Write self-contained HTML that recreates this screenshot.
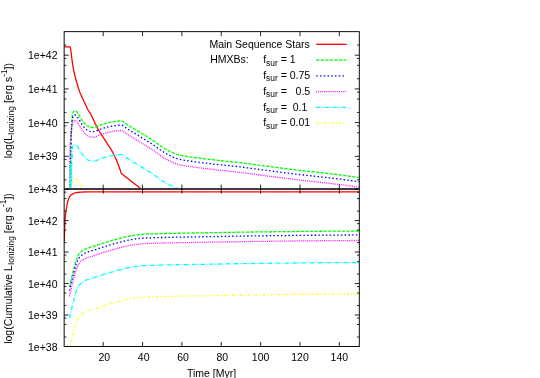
<!DOCTYPE html>
<html><head><meta charset="utf-8"><title>plot</title>
<style>html,body{margin:0;padding:0;background:#fff;}body{width:540px;height:378px;overflow:hidden;}svg{display:block;will-change:transform;}text{font-family:"Liberation Sans", sans-serif;fill:#000;}</style>
</head><body>
<svg width="540" height="378" viewBox="0 0 540 378">
<rect width="540" height="378" fill="#fff"/>
<defs>
<clipPath id="ct"><rect x="64.15" y="31.65" width="295.15" height="157.85"/></clipPath>
<clipPath id="cb"><rect x="64.15" y="189.10" width="295.15" height="157.40"/></clipPath>
</defs>
<g fill="none" stroke-width="1.30" stroke-linejoin="round">
<g clip-path="url(#ct)">
<polyline stroke="#ff0000" points="64.20,46.90 70.00,46.90 70.00,46.90 70.22,47.53 70.42,48.17 70.56,48.81 70.68,49.46 70.79,50.12 70.89,50.77 70.98,51.43 71.07,52.10 71.15,52.76 71.22,53.42 71.30,54.09 71.37,54.76 71.44,55.42 71.52,56.09 71.60,56.75 71.69,57.41 71.78,58.07 71.87,58.73 71.96,59.39 72.05,60.05 72.14,60.71 72.23,61.37 72.32,62.04 72.42,62.70 72.51,63.36 72.61,64.02 72.71,64.67 72.81,65.33 72.91,65.99 73.02,66.65 73.14,67.30 73.25,67.96 73.38,68.61 73.50,69.27 73.63,69.92 73.77,70.58 73.90,71.23 74.05,71.88 74.19,72.53 74.34,73.18 74.48,73.83 74.64,74.48 74.79,75.13 74.94,75.78 75.10,76.43 75.26,77.07 75.43,77.72 75.60,78.36 75.78,79.01 75.95,79.65 76.13,80.29 76.31,80.93 76.50,81.57 76.68,82.21 76.87,82.86 77.05,83.50 77.24,84.14 77.43,84.78 77.61,85.42 77.80,86.06 77.98,86.70 78.17,87.34 78.37,87.98 78.56,88.62 78.76,89.25 78.97,89.89 79.19,90.52 79.41,91.14 79.64,91.76 79.88,92.38 80.13,93.00 80.40,93.61 80.67,94.22 80.95,94.83 81.22,95.44 81.50,96.04 81.78,96.65 82.05,97.26 82.33,97.86 82.61,98.47 82.89,99.07 83.18,99.68 83.46,100.28 83.75,100.88 84.03,101.48 84.32,102.09 84.60,102.69 84.89,103.29 85.17,103.90 85.45,104.50 85.73,105.11 86.00,105.72 86.28,106.32 86.57,106.93 86.85,107.53 87.14,108.13 87.44,108.72 87.75,109.31 88.07,109.89 88.41,110.47 88.76,111.03 89.12,111.60 89.48,112.16 89.83,112.73 90.17,113.30 90.50,113.88 90.82,114.46 91.13,115.05 91.44,115.64 91.74,116.24 92.04,116.83 92.33,117.43 92.63,118.03 92.91,118.63 93.20,119.24 93.49,119.84 93.77,120.44 94.05,121.05 94.34,121.66 94.62,122.26 94.90,122.87 95.19,123.47 95.48,124.07 95.77,124.67 96.06,125.27 96.36,125.87 96.66,126.46 96.96,127.05 97.27,127.64 97.58,128.23 97.91,128.81 98.23,129.39 98.56,129.96 98.90,130.54 99.24,131.11 99.59,131.68 99.94,132.24 100.29,132.81 100.64,133.37 101.00,133.94 101.36,134.50 101.73,135.06 102.09,135.62 102.45,136.18 102.82,136.74 103.18,137.29 103.55,137.85 103.92,138.41 104.28,138.97 104.64,139.53 105.01,140.09 105.36,140.65 105.72,141.22 106.08,141.78 106.44,142.34 106.80,142.91 107.16,143.46 107.53,144.02 107.90,144.58 108.27,145.14 108.64,145.70 109.01,146.26 109.37,146.81 109.74,147.37 110.10,147.94 110.46,148.50 110.81,149.06 111.16,149.63 111.50,150.20 111.84,150.77 112.17,151.35 112.49,151.93 112.81,152.51 113.11,153.10 113.42,153.69 113.72,154.28 114.01,154.88 114.31,155.48 114.59,156.08 114.88,156.68 115.16,157.29 115.44,157.90 115.71,158.51 115.98,159.12 116.25,159.74 116.51,160.35 116.77,160.97 117.03,161.58 117.28,162.20 117.53,162.82 117.77,163.43 118.02,164.05 118.26,164.67 118.50,165.29 118.73,165.92 118.96,166.54 119.19,167.17 119.42,167.80 119.64,168.42 119.86,169.05 120.07,169.69 120.29,170.32 120.50,170.95 120.70,171.59 120.90,172.22 121.10,172.86 121.30,173.50 121.30,173.50 140.30,188.30 145.00,192.00"/>
<polyline stroke="#00ff00" stroke-dasharray="3.20 1.36" points="70.50,200.00 70.51,199.33 70.51,198.67 70.52,198.00 70.53,197.34 70.53,196.67 70.54,196.00 70.55,195.34 70.55,194.67 70.56,194.00 70.56,193.34 70.57,192.67 70.58,192.01 70.58,191.34 70.59,190.67 70.59,190.01 70.60,189.34 70.60,188.68 70.61,188.01 70.61,187.34 70.62,186.68 70.62,186.01 70.62,185.35 70.63,184.68 70.63,184.01 70.64,183.35 70.64,182.68 70.64,182.01 70.65,181.35 70.65,180.68 70.65,180.02 70.66,179.35 70.66,178.68 70.66,178.02 70.66,177.35 70.67,176.69 70.67,176.02 70.67,175.35 70.68,174.69 70.68,174.02 70.68,173.35 70.68,172.69 70.69,172.02 70.69,171.36 70.69,170.69 70.70,170.02 70.70,169.36 70.70,168.69 70.71,168.03 70.71,167.36 70.71,166.69 70.72,166.03 70.72,165.36 70.72,164.69 70.73,164.03 70.73,163.36 70.74,162.70 70.74,162.03 70.74,161.36 70.75,160.70 70.75,160.03 70.76,159.37 70.76,158.70 70.77,158.03 70.77,157.37 70.78,156.70 70.79,156.04 70.79,155.37 70.80,154.70 70.81,154.04 70.81,153.37 70.82,152.71 70.83,152.04 70.84,151.37 70.85,150.71 70.87,150.04 70.88,149.37 70.89,148.71 70.91,148.04 70.92,147.38 70.94,146.71 70.96,146.04 70.97,145.38 70.99,144.71 71.01,144.05 71.03,143.38 71.05,142.71 71.07,142.05 71.09,141.38 71.11,140.72 71.13,140.05 71.15,139.39 71.17,138.72 71.19,138.05 71.22,137.39 71.24,136.72 71.26,136.06 71.29,135.39 71.31,134.73 71.33,134.06 71.36,133.39 71.38,132.73 71.41,132.06 71.44,131.40 71.47,130.73 71.50,130.06 71.53,129.40 71.56,128.73 71.59,128.07 71.63,127.40 71.67,126.73 71.70,126.07 71.74,125.40 71.78,124.74 71.83,124.07 71.87,123.41 71.92,122.75 71.97,122.08 72.01,121.42 72.03,120.76 72.05,120.09 72.07,119.43 72.09,118.76 72.12,118.09 72.15,117.43 72.19,116.77 72.23,116.11 72.27,115.45 72.34,114.80 72.48,114.16 72.65,113.47 72.87,112.80 73.14,112.18 73.45,111.66 73.91,111.20 74.53,110.81 75.14,110.71 75.77,110.99 76.31,111.39 76.74,111.87 77.13,112.44 77.51,113.01 77.88,113.56 78.23,114.12 78.58,114.69 78.92,115.26 79.26,115.84 79.60,116.41 79.95,116.98 80.30,117.55 80.64,118.12 80.99,118.69 81.34,119.26 81.70,119.82 82.07,120.37 82.45,120.91 82.85,121.45 83.26,121.98 83.69,122.49 84.13,123.00 84.58,123.48 85.05,123.96 85.53,124.44 86.02,124.91 86.54,125.36 87.07,125.76 87.61,126.10 88.19,126.39 88.79,126.68 89.42,126.95 90.06,127.19 90.72,127.37 91.38,127.48 92.03,127.50 92.70,127.50 93.38,127.50 94.03,127.50 94.67,127.44 95.30,127.28 95.92,127.05 96.53,126.76 97.14,126.44 97.75,126.11 98.36,125.79 98.98,125.50 99.60,125.27 100.23,125.05 100.86,124.83 101.49,124.62 102.13,124.41 102.76,124.20 103.40,124.00 104.04,123.80 104.68,123.61 105.32,123.42 105.96,123.24 106.60,123.07 107.25,122.90 107.89,122.75 108.54,122.60 109.19,122.46 109.84,122.33 110.49,122.20 111.15,122.08 111.80,121.96 112.46,121.85 113.12,121.74 113.78,121.63 114.44,121.53 115.10,121.44 115.76,121.35 116.42,121.27 117.08,121.19 117.75,121.11 118.43,121.03 119.10,120.95 119.77,120.88 120.44,120.83 121.08,120.80 121.70,120.85 122.31,121.15 122.89,121.53 123.46,121.88 124.01,122.24 124.56,122.62 125.10,123.01 125.64,123.41 126.19,123.79 126.74,124.16 127.30,124.52 127.86,124.88 128.42,125.24 128.98,125.60 129.55,125.95 130.11,126.31 130.68,126.66 131.25,127.01 131.81,127.35 132.38,127.70 132.95,128.05 133.52,128.40 134.09,128.74 134.66,129.09 135.23,129.44 135.80,129.79 136.36,130.14 136.93,130.48 137.50,130.84 138.06,131.19 138.63,131.54 139.20,131.89 139.76,132.24 140.33,132.58 140.90,132.93 141.47,133.28 142.04,133.62 142.61,133.97 143.18,134.32 143.75,134.66 144.32,135.01 144.89,135.36 145.46,135.70 146.03,136.05 146.59,136.40 147.16,136.75 147.73,137.10 148.29,137.45 148.86,137.80 149.42,138.16 149.99,138.51 150.55,138.87 151.11,139.23 151.67,139.59 152.22,139.96 152.78,140.32 153.33,140.69 153.89,141.06 154.43,141.44 154.98,141.82 155.52,142.21 156.06,142.61 156.59,143.00 157.13,143.40 157.67,143.80 158.20,144.20 158.74,144.60 159.28,144.99 159.82,145.38 160.36,145.77 160.90,146.15 161.45,146.52 162.01,146.89 162.57,147.24 163.13,147.59 163.70,147.94 164.27,148.28 164.85,148.62 165.43,148.95 166.01,149.28 166.59,149.60 167.18,149.92 167.76,150.24 168.35,150.55 168.94,150.86 169.54,151.17 170.13,151.47 170.72,151.77 171.32,152.07 171.92,152.37 172.52,152.66 173.13,152.94 173.74,153.21 174.35,153.46 174.97,153.69 175.60,153.90 176.23,154.11 176.87,154.31 177.51,154.50 178.15,154.68 178.80,154.85 179.45,155.02 180.10,155.17 180.75,155.32 181.40,155.46 182.05,155.59 182.70,155.71 183.35,155.84 184.00,155.95 184.66,156.07 185.32,156.18 185.97,156.28 186.63,156.39 187.29,156.49 187.95,156.58 188.61,156.68 189.27,156.77 189.93,156.87 190.59,156.96 191.25,157.05 191.92,157.13 192.58,157.22 193.24,157.31 193.90,157.40 194.56,157.48 195.22,157.57 195.88,157.66 196.54,157.75 197.20,157.83 197.86,157.92 198.52,158.01 199.19,158.09 199.85,158.18 200.51,158.26 201.17,158.35 201.83,158.43 202.49,158.51 203.15,158.59 203.81,158.67 204.47,158.75 205.13,158.83 205.80,158.91 206.46,158.99 207.12,159.07 207.78,159.15 208.44,159.23 209.10,159.30 209.77,159.38 210.43,159.46 211.09,159.53 211.75,159.61 212.41,159.69 213.08,159.76 213.74,159.84 214.40,159.91 215.06,159.99 215.72,160.06 216.39,160.14 217.05,160.21 217.71,160.29 218.37,160.36 219.03,160.44 219.69,160.51 220.36,160.58 221.02,160.66 221.68,160.73 222.34,160.80 223.01,160.87 223.67,160.94 224.33,161.01 224.99,161.08 225.66,161.15 226.32,161.22 226.98,161.28 227.64,161.35 228.31,161.42 228.97,161.49 229.63,161.56 230.30,161.63 230.96,161.69 231.62,161.76 232.28,161.83 232.95,161.90 233.61,161.97 234.27,162.04 234.93,162.11 235.60,162.18 236.26,162.25 236.92,162.32 237.58,162.40 238.24,162.47 238.91,162.55 239.57,162.62 240.23,162.70 240.89,162.78 241.55,162.85 242.21,162.93 242.87,163.02 243.54,163.10 244.20,163.18 244.86,163.27 245.52,163.35 246.18,163.44 246.84,163.52 247.50,163.61 248.16,163.70 248.82,163.79 249.48,163.88 250.14,163.97 250.80,164.06 251.46,164.15 252.12,164.24 252.78,164.33 253.44,164.42 254.10,164.51 254.76,164.60 255.42,164.69 256.08,164.78 256.74,164.87 257.40,164.96 258.06,165.04 258.72,165.13 259.38,165.22 260.04,165.31 260.70,165.39 261.36,165.48 262.02,165.56 262.68,165.65 263.35,165.74 264.01,165.82 264.67,165.91 265.33,166.00 265.99,166.08 266.65,166.17 267.31,166.26 267.97,166.34 268.63,166.43 269.29,166.52 269.95,166.61 270.61,166.69 271.27,166.78 271.93,166.87 272.59,166.95 273.25,167.04 273.91,167.12 274.57,167.21 275.23,167.30 275.90,167.38 276.56,167.47 277.22,167.56 277.88,167.64 278.54,167.73 279.20,167.81 279.86,167.90 280.52,167.98 281.18,168.07 281.84,168.15 282.50,168.24 283.16,168.32 283.82,168.41 284.48,168.49 285.14,168.58 285.81,168.66 286.47,168.74 287.13,168.83 287.79,168.91 288.45,168.99 289.11,169.08 289.77,169.16 290.43,169.24 291.09,169.32 291.75,169.40 292.42,169.48 293.08,169.57 293.74,169.65 294.40,169.73 295.06,169.81 295.72,169.89 296.38,169.97 297.04,170.04 297.71,170.12 298.37,170.20 299.03,170.28 299.69,170.35 300.35,170.43 301.01,170.51 301.68,170.58 302.34,170.66 303.00,170.73 303.66,170.81 304.32,170.88 304.99,170.96 305.65,171.03 306.31,171.10 306.97,171.18 307.63,171.25 308.30,171.32 308.96,171.39 309.62,171.47 310.28,171.54 310.95,171.61 311.61,171.68 312.27,171.75 312.93,171.83 313.60,171.90 314.26,171.97 314.92,172.04 315.58,172.11 316.25,172.18 316.91,172.26 317.57,172.33 318.23,172.40 318.89,172.47 319.56,172.54 320.22,172.62 320.88,172.69 321.54,172.76 322.21,172.83 322.87,172.91 323.53,172.98 324.19,173.05 324.85,173.13 325.52,173.20 326.18,173.27 326.84,173.35 327.50,173.42 328.16,173.50 328.83,173.57 329.49,173.65 330.15,173.72 330.81,173.80 331.47,173.88 332.13,173.95 332.80,174.03 333.46,174.11 334.12,174.19 334.78,174.27 335.44,174.35 336.10,174.43 336.76,174.51 337.43,174.59 338.09,174.67 338.75,174.75 339.41,174.84 340.07,174.92 340.73,175.01 341.39,175.09 342.05,175.18 342.71,175.26 343.37,175.35 344.03,175.44 344.69,175.53 345.35,175.62 346.01,175.71 346.67,175.80 347.33,175.89 347.99,175.98 348.65,176.07 349.31,176.17 349.97,176.26 350.63,176.35 351.29,176.45 351.95,176.54 352.61,176.64 353.27,176.73 353.93,176.83 354.59,176.92 355.25,177.02 355.90,177.11 356.56,177.21 357.22,177.31 357.88,177.41 358.54,177.50 359.20,177.60"/>
<polyline stroke="#0000ff" stroke-dasharray="1.50 2.25" points="70.30,204.21 70.31,203.54 70.31,202.88 70.32,202.21 70.33,201.55 70.33,200.88 70.34,200.21 70.35,199.55 70.35,198.88 70.36,198.22 70.36,197.55 70.37,196.88 70.38,196.22 70.38,195.55 70.39,194.88 70.39,194.22 70.40,193.55 70.40,192.89 70.41,192.22 70.41,191.55 70.42,190.89 70.42,190.22 70.42,189.56 70.43,188.89 70.43,188.22 70.44,187.56 70.44,186.89 70.44,186.22 70.45,185.56 70.45,184.89 70.45,184.23 70.46,183.56 70.46,182.89 70.46,182.23 70.46,181.56 70.47,180.90 70.47,180.23 70.47,179.56 70.48,178.90 70.48,178.23 70.48,177.56 70.48,176.90 70.49,176.23 70.49,175.57 70.49,174.90 70.50,174.23 70.50,173.57 70.50,172.90 70.51,172.24 70.51,171.57 70.51,170.90 70.52,170.24 70.52,169.57 70.52,168.90 70.53,168.24 70.53,167.57 70.54,166.91 70.54,166.24 70.54,165.57 70.55,164.91 70.55,164.24 70.56,163.58 70.56,162.91 70.57,162.24 70.57,161.58 70.58,160.91 70.59,160.25 70.59,159.58 70.60,158.91 70.61,158.25 70.61,157.58 70.62,156.92 70.63,156.25 70.64,155.58 70.65,154.92 70.67,154.25 70.68,153.59 70.69,152.92 70.71,152.25 70.72,151.59 70.74,150.92 70.76,150.25 70.77,149.59 70.79,148.92 70.81,148.26 70.83,147.59 70.85,146.92 70.87,146.26 70.89,145.59 70.91,144.93 70.93,144.26 70.95,143.60 70.97,142.93 70.99,142.26 71.02,141.60 71.04,140.93 71.06,140.27 71.09,139.60 71.11,138.94 71.13,138.27 71.16,137.60 71.18,136.94 71.21,136.27 71.24,135.61 71.27,134.94 71.30,134.27 71.33,133.61 71.36,132.94 71.39,132.28 71.43,131.61 71.47,130.94 71.50,130.28 71.54,129.61 71.58,128.95 71.63,128.28 71.67,127.62 71.72,126.96 71.77,126.29 71.81,125.63 71.84,124.97 71.88,124.30 71.92,123.64 71.96,122.97 72.00,122.30 72.06,121.64 72.11,120.98 72.18,120.32 72.25,119.66 72.34,119.02 72.48,118.37 72.65,117.69 72.87,117.01 73.14,116.39 73.45,115.87 73.91,115.41 74.53,115.02 75.14,114.92 75.77,115.20 76.31,115.60 76.74,116.08 77.13,116.65 77.51,117.22 77.88,117.77 78.23,118.33 78.58,118.90 78.92,119.48 79.26,120.05 79.60,120.62 79.95,121.19 80.30,121.76 80.64,122.33 80.99,122.90 81.34,123.47 81.70,124.03 82.07,124.58 82.45,125.12 82.85,125.66 83.26,126.19 83.69,126.70 84.13,127.21 84.58,127.69 85.05,128.17 85.53,128.65 86.02,129.12 86.54,129.57 87.07,129.97 87.61,130.31 88.19,130.60 88.79,130.89 89.42,131.16 90.06,131.40 90.72,131.58 91.38,131.69 92.03,131.71 92.70,131.71 93.38,131.71 94.03,131.71 94.67,131.65 95.30,131.49 95.92,131.26 96.53,130.97 97.14,130.65 97.75,130.32 98.36,130.00 98.98,129.71 99.60,129.48 100.23,129.26 100.86,129.05 101.49,128.83 102.13,128.62 102.76,128.41 103.40,128.21 104.04,128.01 104.68,127.82 105.32,127.63 105.96,127.45 106.60,127.28 107.25,127.11 107.89,126.96 108.54,126.81 109.19,126.67 109.84,126.54 110.49,126.41 111.15,126.29 111.80,126.17 112.46,126.06 113.12,125.95 113.78,125.84 114.44,125.74 115.10,125.65 115.76,125.56 116.42,125.48 117.08,125.40 117.75,125.32 118.43,125.24 119.10,125.16 119.77,125.09 120.44,125.04 121.08,125.01 121.70,125.06 122.31,125.36 122.89,125.74 123.46,126.09 124.01,126.45 124.56,126.83 125.10,127.22 125.64,127.62 126.19,128.00 126.74,128.37 127.30,128.73 127.86,129.09 128.42,129.45 128.98,129.81 129.55,130.16 130.11,130.52 130.68,130.87 131.25,131.22 131.81,131.57 132.38,131.91 132.95,132.26 133.52,132.61 134.09,132.95 134.66,133.30 135.23,133.65 135.80,134.00 136.36,134.35 136.93,134.70 137.50,135.05 138.06,135.40 138.63,135.75 139.20,136.10 139.76,136.45 140.33,136.79 140.90,137.14 141.47,137.49 142.04,137.83 142.61,138.18 143.18,138.53 143.75,138.87 144.32,139.22 144.89,139.57 145.46,139.91 146.03,140.26 146.59,140.61 147.16,140.96 147.73,141.31 148.29,141.66 148.86,142.01 149.42,142.37 149.99,142.73 150.55,143.08 151.11,143.44 151.67,143.80 152.22,144.17 152.78,144.53 153.33,144.90 153.89,145.27 154.43,145.65 154.98,146.03 155.52,146.42 156.06,146.82 156.59,147.21 157.13,147.61 157.67,148.01 158.20,148.41 158.74,148.81 159.28,149.20 159.82,149.59 160.36,149.98 160.90,150.36 161.45,150.73 162.01,151.10 162.57,151.45 163.13,151.80 163.70,152.15 164.27,152.49 164.85,152.83 165.43,153.16 166.01,153.49 166.59,153.81 167.18,154.13 167.76,154.45 168.35,154.76 168.94,155.07 169.54,155.38 170.13,155.68 170.72,155.98 171.32,156.28 171.92,156.58 172.52,156.87 173.13,157.15 173.74,157.42 174.35,157.67 174.97,157.90 175.60,158.11 176.23,158.32 176.87,158.52 177.51,158.71 178.15,158.89 178.80,159.06 179.45,159.23 180.10,159.38 180.75,159.53 181.40,159.67 182.05,159.80 182.70,159.92 183.35,160.05 184.00,160.16 184.66,160.28 185.32,160.39 185.97,160.49 186.63,160.60 187.29,160.70 187.95,160.79 188.61,160.89 189.27,160.98 189.93,161.08 190.59,161.17 191.25,161.26 191.92,161.34 192.58,161.43 193.24,161.52 193.90,161.61 194.56,161.69 195.22,161.78 195.88,161.87 196.54,161.96 197.20,162.04 197.86,162.13 198.52,162.22 199.19,162.30 199.85,162.39 200.51,162.47 201.17,162.56 201.83,162.64 202.49,162.72 203.15,162.80 203.81,162.88 204.47,162.96 205.13,163.04 205.80,163.12 206.46,163.20 207.12,163.28 207.78,163.36 208.44,163.44 209.10,163.51 209.77,163.59 210.43,163.67 211.09,163.74 211.75,163.82 212.41,163.90 213.08,163.97 213.74,164.05 214.40,164.12 215.06,164.20 215.72,164.27 216.39,164.35 217.05,164.42 217.71,164.50 218.37,164.57 219.03,164.65 219.69,164.72 220.36,164.80 221.02,164.87 221.68,164.94 222.34,165.01 223.01,165.08 223.67,165.15 224.33,165.22 224.99,165.29 225.66,165.36 226.32,165.43 226.98,165.50 227.64,165.56 228.31,165.63 228.97,165.70 229.63,165.77 230.30,165.84 230.96,165.90 231.62,165.97 232.28,166.04 232.95,166.11 233.61,166.18 234.27,166.25 234.93,166.32 235.60,166.39 236.26,166.46 236.92,166.53 237.58,166.61 238.24,166.68 238.91,166.76 239.57,166.83 240.23,166.91 240.89,166.99 241.55,167.06 242.21,167.14 242.87,167.23 243.54,167.31 244.20,167.39 244.86,167.48 245.52,167.56 246.18,167.65 246.84,167.73 247.50,167.82 248.16,167.91 248.82,168.00 249.48,168.09 250.14,168.18 250.80,168.27 251.46,168.36 252.12,168.45 252.78,168.54 253.44,168.63 254.10,168.72 254.76,168.81 255.42,168.90 256.08,168.99 256.74,169.08 257.40,169.17 258.06,169.25 258.72,169.34 259.38,169.43 260.04,169.52 260.70,169.60 261.36,169.69 262.02,169.78 262.68,169.86 263.35,169.95 264.01,170.03 264.67,170.12 265.33,170.21 265.99,170.29 266.65,170.38 267.31,170.47 267.97,170.56 268.63,170.64 269.29,170.73 269.95,170.82 270.61,170.90 271.27,170.99 271.93,171.08 272.59,171.16 273.25,171.25 273.91,171.33 274.57,171.42 275.23,171.51 275.90,171.59 276.56,171.68 277.22,171.77 277.88,171.85 278.54,171.94 279.20,172.02 279.86,172.11 280.52,172.19 281.18,172.28 281.84,172.36 282.50,172.45 283.16,172.53 283.82,172.62 284.48,172.70 285.14,172.79 285.81,172.87 286.47,172.95 287.13,173.04 287.79,173.12 288.45,173.20 289.11,173.29 289.77,173.37 290.43,173.45 291.09,173.53 291.75,173.61 292.42,173.70 293.08,173.78 293.74,173.86 294.40,173.94 295.06,174.02 295.72,174.10 296.38,174.18 297.04,174.26 297.71,174.33 298.37,174.41 299.03,174.49 299.69,174.56 300.35,174.64 301.01,174.72 301.68,174.79 302.34,174.87 303.00,174.94 303.66,175.02 304.32,175.09 304.99,175.17 305.65,175.24 306.31,175.31 306.97,175.39 307.63,175.46 308.30,175.53 308.96,175.60 309.62,175.68 310.28,175.75 310.95,175.82 311.61,175.89 312.27,175.96 312.93,176.04 313.60,176.11 314.26,176.18 314.92,176.25 315.58,176.32 316.25,176.40 316.91,176.47 317.57,176.54 318.23,176.61 318.89,176.68 319.56,176.75 320.22,176.83 320.88,176.90 321.54,176.97 322.21,177.04 322.87,177.12 323.53,177.19 324.19,177.26 324.85,177.34 325.52,177.41 326.18,177.48 326.84,177.56 327.50,177.63 328.16,177.71 328.83,177.78 329.49,177.86 330.15,177.93 330.81,178.01 331.47,178.09 332.13,178.16 332.80,178.24 333.46,178.32 334.12,178.40 334.78,178.48 335.44,178.56 336.10,178.64 336.76,178.72 337.43,178.80 338.09,178.88 338.75,178.96 339.41,179.05 340.07,179.13 340.73,179.22 341.39,179.30 342.05,179.39 342.71,179.47 343.37,179.56 344.03,179.65 344.69,179.74 345.35,179.83 346.01,179.92 346.67,180.01 347.33,180.10 347.99,180.19 348.65,180.28 349.31,180.38 349.97,180.47 350.63,180.56 351.29,180.66 351.95,180.75 352.61,180.85 353.27,180.94 353.93,181.04 354.59,181.13 355.25,181.23 355.90,181.33 356.56,181.42 357.22,181.52 357.88,181.62 358.54,181.71 359.20,181.81"/>
<polyline stroke="#ff00ff" stroke-dasharray="0.90 1.00" points="69.40,209.70 69.41,209.03 69.41,208.37 69.42,207.70 69.43,207.04 69.43,206.37 69.44,205.70 69.45,205.04 69.45,204.37 69.46,203.70 69.46,203.04 69.47,202.37 69.48,201.71 69.48,201.04 69.49,200.37 69.49,199.71 69.50,199.04 69.50,198.38 69.51,197.71 69.51,197.04 69.52,196.38 69.52,195.71 69.52,195.05 69.53,194.38 69.53,193.71 69.54,193.05 69.54,192.38 69.54,191.71 69.55,191.05 69.55,190.38 69.55,189.72 69.56,189.05 69.56,188.38 69.56,187.72 69.56,187.05 69.57,186.39 69.57,185.72 69.57,185.05 69.58,184.39 69.58,183.72 69.58,183.05 69.58,182.39 69.59,181.72 69.59,181.06 69.59,180.39 69.60,179.72 69.60,179.06 69.60,178.39 69.61,177.73 69.61,177.06 69.61,176.39 69.62,175.73 69.62,175.06 69.62,174.39 69.63,173.73 69.63,173.06 69.64,172.40 69.64,171.73 69.64,171.06 69.65,170.40 69.65,169.73 69.66,169.07 69.66,168.40 69.67,167.73 69.67,167.07 69.68,166.40 69.69,165.74 69.69,165.07 69.70,164.40 69.71,163.74 69.71,163.07 69.72,162.41 69.73,161.74 69.74,161.07 69.75,160.41 69.77,159.74 69.78,159.07 69.79,158.41 69.81,157.74 69.82,157.08 69.84,156.41 69.86,155.74 69.87,155.08 69.89,154.41 69.91,153.75 69.93,153.08 69.95,152.41 69.97,151.75 69.99,151.08 70.01,150.42 70.03,149.75 70.05,149.09 70.07,148.42 70.09,147.75 70.12,147.09 70.14,146.42 70.16,145.76 70.19,145.09 70.21,144.43 70.23,143.76 70.26,143.09 70.28,142.43 70.31,141.76 70.34,141.10 70.37,140.43 70.40,139.76 70.43,139.10 70.46,138.43 70.49,137.77 70.53,137.10 70.57,136.43 70.60,135.77 70.64,135.10 70.68,134.44 70.73,133.77 70.77,133.11 70.82,132.45 70.87,131.78 70.93,131.12 71.02,130.46 71.12,129.79 71.23,129.13 71.34,128.46 71.47,127.79 71.62,127.13 71.77,126.47 71.95,125.81 72.15,125.15 72.34,124.50 72.48,123.86 72.65,123.17 72.87,122.50 73.14,121.88 73.45,121.36 73.91,120.90 74.53,120.51 75.14,120.41 75.77,120.69 76.31,121.09 76.74,121.57 77.13,122.14 77.51,122.71 77.88,123.26 78.23,123.82 78.58,124.39 78.92,124.96 79.26,125.54 79.60,126.11 79.95,126.68 80.30,127.25 80.64,127.82 80.99,128.39 81.34,128.96 81.70,129.52 82.07,130.07 82.45,130.61 82.85,131.15 83.26,131.68 83.69,132.19 84.13,132.70 84.58,133.18 85.05,133.66 85.53,134.14 86.02,134.61 86.54,135.06 87.07,135.46 87.61,135.80 88.19,136.09 88.79,136.38 89.42,136.65 90.06,136.89 90.72,137.07 91.38,137.18 92.03,137.20 92.70,137.20 93.38,137.20 94.03,137.20 94.67,137.14 95.30,136.98 95.92,136.75 96.53,136.46 97.14,136.14 97.75,135.81 98.36,135.49 98.98,135.20 99.60,134.97 100.23,134.75 100.86,134.53 101.49,134.32 102.13,134.11 102.76,133.90 103.40,133.70 104.04,133.50 104.68,133.31 105.32,133.12 105.96,132.94 106.60,132.77 107.25,132.60 107.89,132.45 108.54,132.30 109.19,132.16 109.84,132.03 110.49,131.90 111.15,131.78 111.80,131.66 112.46,131.55 113.12,131.44 113.78,131.33 114.44,131.23 115.10,131.14 115.76,131.05 116.42,130.97 117.08,130.89 117.75,130.81 118.43,130.73 119.10,130.65 119.77,130.58 120.44,130.53 121.08,130.50 121.70,130.55 122.31,130.85 122.89,131.23 123.46,131.58 124.01,131.94 124.56,132.32 125.10,132.71 125.64,133.11 126.19,133.49 126.74,133.86 127.30,134.22 127.86,134.58 128.42,134.94 128.98,135.30 129.55,135.65 130.11,136.01 130.68,136.36 131.25,136.71 131.81,137.05 132.38,137.40 132.95,137.75 133.52,138.10 134.09,138.44 134.66,138.79 135.23,139.14 135.80,139.49 136.36,139.84 136.93,140.18 137.50,140.54 138.06,140.89 138.63,141.24 139.20,141.59 139.76,141.94 140.33,142.28 140.90,142.63 141.47,142.98 142.04,143.32 142.61,143.67 143.18,144.02 143.75,144.36 144.32,144.71 144.89,145.06 145.46,145.40 146.03,145.75 146.59,146.10 147.16,146.45 147.73,146.80 148.29,147.15 148.86,147.50 149.42,147.86 149.99,148.21 150.55,148.57 151.11,148.93 151.67,149.29 152.22,149.66 152.78,150.02 153.33,150.39 153.89,150.76 154.43,151.14 154.98,151.52 155.52,151.91 156.06,152.31 156.59,152.70 157.13,153.10 157.67,153.50 158.20,153.90 158.74,154.30 159.28,154.69 159.82,155.08 160.36,155.47 160.90,155.85 161.45,156.22 162.01,156.59 162.57,156.94 163.13,157.29 163.70,157.64 164.27,157.98 164.85,158.32 165.43,158.65 166.01,158.98 166.59,159.30 167.18,159.62 167.76,159.94 168.35,160.25 168.94,160.56 169.54,160.87 170.13,161.17 170.72,161.47 171.32,161.77 171.92,162.07 172.52,162.36 173.13,162.64 173.74,162.91 174.35,163.16 174.97,163.39 175.60,163.60 176.23,163.81 176.87,164.01 177.51,164.20 178.15,164.38 178.80,164.55 179.45,164.72 180.10,164.87 180.75,165.02 181.40,165.16 182.05,165.29 182.70,165.41 183.35,165.54 184.00,165.65 184.66,165.77 185.32,165.88 185.97,165.98 186.63,166.09 187.29,166.19 187.95,166.28 188.61,166.38 189.27,166.47 189.93,166.57 190.59,166.66 191.25,166.75 191.92,166.83 192.58,166.92 193.24,167.01 193.90,167.10 194.56,167.18 195.22,167.27 195.88,167.36 196.54,167.45 197.20,167.53 197.86,167.62 198.52,167.71 199.19,167.79 199.85,167.88 200.51,167.96 201.17,168.05 201.83,168.13 202.49,168.21 203.15,168.29 203.81,168.37 204.47,168.45 205.13,168.53 205.80,168.61 206.46,168.69 207.12,168.77 207.78,168.85 208.44,168.93 209.10,169.00 209.77,169.08 210.43,169.16 211.09,169.23 211.75,169.31 212.41,169.39 213.08,169.46 213.74,169.54 214.40,169.61 215.06,169.69 215.72,169.76 216.39,169.84 217.05,169.91 217.71,169.99 218.37,170.06 219.03,170.14 219.69,170.21 220.36,170.28 221.02,170.36 221.68,170.43 222.34,170.50 223.01,170.57 223.67,170.64 224.33,170.71 224.99,170.78 225.66,170.85 226.32,170.92 226.98,170.98 227.64,171.05 228.31,171.12 228.97,171.19 229.63,171.26 230.30,171.33 230.96,171.39 231.62,171.46 232.28,171.53 232.95,171.60 233.61,171.67 234.27,171.74 234.93,171.81 235.60,171.88 236.26,171.95 236.92,172.02 237.58,172.10 238.24,172.17 238.91,172.25 239.57,172.32 240.23,172.40 240.89,172.48 241.55,172.55 242.21,172.63 242.87,172.72 243.54,172.80 244.20,172.88 244.86,172.97 245.52,173.05 246.18,173.14 246.84,173.22 247.50,173.31 248.16,173.40 248.82,173.49 249.48,173.58 250.14,173.67 250.80,173.76 251.46,173.85 252.12,173.94 252.78,174.03 253.44,174.12 254.10,174.21 254.76,174.30 255.42,174.39 256.08,174.48 256.74,174.57 257.40,174.66 258.06,174.74 258.72,174.83 259.38,174.92 260.04,175.01 260.70,175.09 261.36,175.18 262.02,175.26 262.68,175.35 263.35,175.44 264.01,175.52 264.67,175.61 265.33,175.70 265.99,175.78 266.65,175.87 267.31,175.96 267.97,176.04 268.63,176.13 269.29,176.22 269.95,176.31 270.61,176.39 271.27,176.48 271.93,176.57 272.59,176.65 273.25,176.74 273.91,176.82 274.57,176.91 275.23,177.00 275.90,177.08 276.56,177.17 277.22,177.26 277.88,177.34 278.54,177.43 279.20,177.51 279.86,177.60 280.52,177.68 281.18,177.77 281.84,177.85 282.50,177.94 283.16,178.02 283.82,178.11 284.48,178.19 285.14,178.28 285.81,178.36 286.47,178.44 287.13,178.53 287.79,178.61 288.45,178.69 289.11,178.78 289.77,178.86 290.43,178.94 291.09,179.02 291.75,179.10 292.42,179.18 293.08,179.27 293.74,179.35 294.40,179.43 295.06,179.51 295.72,179.59 296.38,179.67 297.04,179.74 297.71,179.82 298.37,179.90 299.03,179.98 299.69,180.05 300.35,180.13 301.01,180.21 301.68,180.28 302.34,180.36 303.00,180.43 303.66,180.51 304.32,180.58 304.99,180.66 305.65,180.73 306.31,180.80 306.97,180.88 307.63,180.95 308.30,181.02 308.96,181.09 309.62,181.17 310.28,181.24 310.95,181.31 311.61,181.38 312.27,181.45 312.93,181.53 313.60,181.60 314.26,181.67 314.92,181.74 315.58,181.81 316.25,181.88 316.91,181.96 317.57,182.03 318.23,182.10 318.89,182.17 319.56,182.24 320.22,182.32 320.88,182.39 321.54,182.46 322.21,182.53 322.87,182.61 323.53,182.68 324.19,182.75 324.85,182.83 325.52,182.90 326.18,182.97 326.84,183.05 327.50,183.12 328.16,183.20 328.83,183.27 329.49,183.35 330.15,183.42 330.81,183.50 331.47,183.58 332.13,183.65 332.80,183.73 333.46,183.81 334.12,183.89 334.78,183.97 335.44,184.05 336.10,184.13 336.76,184.21 337.43,184.29 338.09,184.37 338.75,184.45 339.41,184.54 340.07,184.62 340.73,184.71 341.39,184.79 342.05,184.88 342.71,184.96 343.37,185.05 344.03,185.14 344.69,185.23 345.35,185.32 346.01,185.41 346.67,185.50 347.33,185.59 347.99,185.68 348.65,185.77 349.31,185.87 349.97,185.96 350.63,186.05 351.29,186.15 351.95,186.24 352.61,186.34 353.27,186.43 353.93,186.53 354.59,186.62 355.25,186.72 355.90,186.81 356.56,186.91 357.22,187.01 357.88,187.11 358.54,187.20 359.20,187.30"/>
<polyline stroke="#00ffff" stroke-dasharray="4.50 1.50 0.90 1.50" points="70.70,233.70 70.71,233.03 70.71,232.37 70.72,231.70 70.73,231.04 70.73,230.37 70.74,229.70 70.75,229.04 70.75,228.37 70.76,227.70 70.76,227.04 70.77,226.37 70.78,225.71 70.78,225.04 70.79,224.37 70.79,223.71 70.80,223.04 70.80,222.38 70.81,221.71 70.81,221.04 70.82,220.38 70.82,219.71 70.82,219.05 70.83,218.38 70.83,217.71 70.84,217.05 70.84,216.38 70.84,215.71 70.85,215.05 70.85,214.38 70.85,213.72 70.86,213.05 70.86,212.38 70.86,211.72 70.86,211.05 70.87,210.39 70.87,209.72 70.87,209.05 70.88,208.39 70.88,207.72 70.88,207.05 70.88,206.39 70.89,205.72 70.89,205.06 70.89,204.39 70.90,203.72 70.90,203.06 70.90,202.39 70.91,201.73 70.91,201.06 70.91,200.39 70.92,199.73 70.92,199.06 70.92,198.39 70.93,197.73 70.93,197.06 70.94,196.40 70.94,195.73 70.94,195.06 70.95,194.40 70.95,193.73 70.96,193.07 70.96,192.40 70.97,191.73 70.97,191.07 70.98,190.40 70.99,189.74 70.99,189.07 71.00,188.40 71.01,187.74 71.01,187.07 71.02,186.41 71.03,185.74 71.04,185.07 71.05,184.41 71.07,183.74 71.08,183.07 71.09,182.41 71.11,181.74 71.12,181.08 71.14,180.41 71.16,179.74 71.17,179.08 71.19,178.41 71.21,177.75 71.23,177.08 71.25,176.41 71.27,175.75 71.29,175.08 71.31,174.42 71.33,173.75 71.35,173.09 71.37,172.42 71.39,171.75 71.42,171.09 71.44,170.42 71.46,169.76 71.49,169.09 71.51,168.43 71.53,167.76 71.56,167.09 71.58,166.43 71.61,165.76 71.64,165.10 71.67,164.43 71.70,163.76 71.73,163.10 71.76,162.43 71.79,161.77 71.83,161.10 71.87,160.43 71.90,159.77 71.94,159.10 71.98,158.44 72.03,157.77 72.07,157.11 72.12,156.45 72.17,155.78 72.20,155.12 72.21,154.46 72.22,153.79 72.22,153.13 72.23,152.46 72.24,151.79 72.25,151.13 72.26,150.47 72.28,149.81 72.29,149.15 72.34,148.50 72.48,147.86 72.65,147.17 72.87,146.50 73.14,145.88 73.45,145.36 73.91,144.90 74.53,144.51 75.14,144.41 75.77,144.69 76.31,145.09 76.74,145.57 77.13,146.14 77.51,146.71 77.88,147.26 78.23,147.82 78.58,148.39 78.92,148.96 79.26,149.54 79.60,150.11 79.95,150.68 80.30,151.25 80.64,151.82 80.99,152.39 81.34,152.96 81.70,153.52 82.07,154.07 82.45,154.61 82.85,155.15 83.26,155.68 83.69,156.19 84.13,156.70 84.58,157.18 85.05,157.66 85.53,158.14 86.02,158.61 86.54,159.06 87.07,159.46 87.61,159.80 88.19,160.09 88.79,160.38 89.42,160.65 90.06,160.89 90.72,161.07 91.38,161.18 92.03,161.20 92.70,161.20 93.38,161.20 94.03,161.20 94.67,161.14 95.30,160.98 95.92,160.75 96.53,160.46 97.14,160.14 97.75,159.81 98.36,159.49 98.98,159.20 99.60,158.97 100.23,158.75 100.86,158.53 101.49,158.32 102.13,158.11 102.76,157.90 103.40,157.70 104.04,157.50 104.68,157.31 105.32,157.12 105.96,156.94 106.60,156.77 107.25,156.60 107.89,156.45 108.54,156.30 109.19,156.16 109.84,156.03 110.49,155.90 111.15,155.78 111.80,155.66 112.46,155.55 113.12,155.44 113.78,155.33 114.44,155.23 115.10,155.14 115.76,155.05 116.42,154.97 117.08,154.89 117.75,154.81 118.43,154.73 119.10,154.65 119.77,154.58 120.44,154.53 121.08,154.50 121.70,154.55 122.31,154.85 122.89,155.23 123.46,155.58 124.01,155.94 124.56,156.32 125.10,156.71 125.64,157.11 126.19,157.49 126.74,157.86 127.30,158.22 127.86,158.58 128.42,158.94 128.98,159.30 129.55,159.65 130.11,160.01 130.68,160.36 131.25,160.71 131.81,161.05 132.38,161.40 132.95,161.75 133.52,162.10 134.09,162.44 134.66,162.79 135.23,163.14 135.80,163.49 136.36,163.84 136.93,164.18 137.50,164.54 138.06,164.89 138.63,165.24 139.20,165.59 139.76,165.94 140.33,166.28 140.90,166.63 141.47,166.98 142.04,167.32 142.61,167.67 143.18,168.02 143.75,168.36 144.32,168.71 144.89,169.06 145.46,169.40 146.03,169.75 146.59,170.10 147.16,170.45 147.73,170.80 148.29,171.15 148.86,171.50 149.42,171.86 149.99,172.21 150.55,172.57 151.11,172.93 151.67,173.29 152.22,173.66 152.78,174.02 153.33,174.39 153.89,174.76 154.43,175.14 154.98,175.52 155.52,175.91 156.06,176.31 156.59,176.70 157.13,177.10 157.67,177.50 158.20,177.90 158.74,178.30 159.28,178.69 159.82,179.08 160.36,179.47 160.90,179.85 161.45,180.22 162.01,180.59 162.57,180.94 163.13,181.29 163.70,181.64 164.27,181.98 164.85,182.32 165.43,182.65 166.01,182.98 166.59,183.30 167.18,183.62 167.76,183.94 168.35,184.25 168.94,184.56 169.54,184.87 170.13,185.17 170.72,185.47 171.32,185.77 171.92,186.07 172.52,186.36 173.13,186.64 173.74,186.91 174.35,187.16 174.97,187.39 175.60,187.60 176.23,187.81 176.87,188.01 177.51,188.20 178.15,188.38 178.80,188.55 179.45,188.72 180.10,188.87 180.75,189.02 181.40,189.16 182.05,189.29 182.70,189.41 183.35,189.54 184.00,189.65 184.66,189.77 185.32,189.88 185.97,189.98 186.63,190.09 187.29,190.19 187.95,190.28 188.61,190.38 189.27,190.47 189.93,190.57 190.59,190.66 191.25,190.75 191.92,190.83 192.58,190.92 193.24,191.01 193.90,191.10 194.56,191.18 195.22,191.27 195.88,191.36 196.54,191.45 197.20,191.53 197.86,191.62 198.52,191.71 199.19,191.79 199.85,191.88 200.51,191.96 201.17,192.05 201.83,192.13 202.49,192.21 203.15,192.29 203.81,192.37 204.47,192.45 205.13,192.53 205.80,192.61 206.46,192.69 207.12,192.77 207.78,192.85 208.44,192.93 209.10,193.00 209.77,193.08 210.43,193.16 211.09,193.23 211.75,193.31 212.41,193.39 213.08,193.46 213.74,193.54 214.40,193.61 215.06,193.69 215.72,193.76 216.39,193.84 217.05,193.91 217.71,193.99 218.37,194.06 219.03,194.14 219.69,194.21 220.36,194.28 221.02,194.36 221.68,194.43 222.34,194.50 223.01,194.57 223.67,194.64 224.33,194.71 224.99,194.78 225.66,194.85 226.32,194.92 226.98,194.98 227.64,195.05 228.31,195.12 228.97,195.19 229.63,195.26 230.30,195.33 230.96,195.39 231.62,195.46 232.28,195.53 232.95,195.60 233.61,195.67 234.27,195.74 234.93,195.81 235.60,195.88 236.26,195.95 236.92,196.02 237.58,196.10 238.24,196.17 238.91,196.25 239.57,196.32 240.23,196.40 240.89,196.48 241.55,196.55 242.21,196.63 242.87,196.72 243.54,196.80 244.20,196.88 244.86,196.97 245.52,197.05 246.18,197.14 246.84,197.22 247.50,197.31 248.16,197.40 248.82,197.49 249.48,197.58 250.14,197.67 250.80,197.76 251.46,197.85 252.12,197.94 252.78,198.03 253.44,198.12 254.10,198.21 254.76,198.30 255.42,198.39 256.08,198.48 256.74,198.57 257.40,198.66 258.06,198.74 258.72,198.83 259.38,198.92 260.04,199.01 260.70,199.09 261.36,199.18 262.02,199.26 262.68,199.35 263.35,199.44 264.01,199.52 264.67,199.61 265.33,199.70 265.99,199.78 266.65,199.87 267.31,199.96 267.97,200.04 268.63,200.13 269.29,200.22 269.95,200.31 270.61,200.39 271.27,200.48 271.93,200.57 272.59,200.65 273.25,200.74 273.91,200.82 274.57,200.91 275.23,201.00 275.90,201.08 276.56,201.17 277.22,201.26 277.88,201.34 278.54,201.43 279.20,201.51 279.86,201.60 280.52,201.68 281.18,201.77 281.84,201.85 282.50,201.94 283.16,202.02 283.82,202.11 284.48,202.19 285.14,202.28 285.81,202.36 286.47,202.44 287.13,202.53 287.79,202.61 288.45,202.69 289.11,202.78 289.77,202.86 290.43,202.94 291.09,203.02 291.75,203.10 292.42,203.18 293.08,203.27 293.74,203.35 294.40,203.43 295.06,203.51 295.72,203.59 296.38,203.67 297.04,203.74 297.71,203.82 298.37,203.90 299.03,203.98 299.69,204.05 300.35,204.13 301.01,204.21 301.68,204.28 302.34,204.36 303.00,204.43 303.66,204.51 304.32,204.58 304.99,204.66 305.65,204.73 306.31,204.80 306.97,204.88 307.63,204.95 308.30,205.02 308.96,205.09 309.62,205.17 310.28,205.24 310.95,205.31 311.61,205.38 312.27,205.45 312.93,205.53 313.60,205.60 314.26,205.67 314.92,205.74 315.58,205.81 316.25,205.88 316.91,205.96 317.57,206.03 318.23,206.10 318.89,206.17 319.56,206.24 320.22,206.32 320.88,206.39 321.54,206.46 322.21,206.53 322.87,206.61 323.53,206.68 324.19,206.75 324.85,206.83 325.52,206.90 326.18,206.97 326.84,207.05 327.50,207.12 328.16,207.20 328.83,207.27 329.49,207.35 330.15,207.42 330.81,207.50 331.47,207.58 332.13,207.65 332.80,207.73 333.46,207.81 334.12,207.89 334.78,207.97 335.44,208.05 336.10,208.13 336.76,208.21 337.43,208.29 338.09,208.37 338.75,208.45 339.41,208.54 340.07,208.62 340.73,208.71 341.39,208.79 342.05,208.88 342.71,208.96 343.37,209.05 344.03,209.14 344.69,209.23 345.35,209.32 346.01,209.41 346.67,209.50 347.33,209.59 347.99,209.68 348.65,209.77 349.31,209.87 349.97,209.96 350.63,210.05 351.29,210.15 351.95,210.24 352.61,210.34 353.27,210.43 353.93,210.53 354.59,210.62 355.25,210.72 355.90,210.81 356.56,210.91 357.22,211.01 357.88,211.11 358.54,211.20 359.20,211.30"/>
<path stroke="#00ffff" stroke-width="1.9" stroke-opacity="0.85" d="M70.55 164V190"/>
<polyline stroke="#ffff00" stroke-dasharray="2.25 2.25 0.90 2.25" points="71.00,267.40 71.01,266.73 71.01,266.07 71.02,265.40 71.03,264.74 71.03,264.07 71.04,263.40 71.05,262.74 71.05,262.07 71.06,261.40 71.06,260.74 71.07,260.07 71.08,259.41 71.08,258.74 71.09,258.07 71.09,257.41 71.10,256.74 71.10,256.08 71.11,255.41 71.11,254.74 71.12,254.08 71.12,253.41 71.12,252.75 71.13,252.08 71.13,251.41 71.14,250.75 71.14,250.08 71.14,249.41 71.15,248.75 71.15,248.08 71.15,247.42 71.16,246.75 71.16,246.08 71.16,245.42 71.16,244.75 71.17,244.09 71.17,243.42 71.17,242.75 71.18,242.09 71.18,241.42 71.18,240.75 71.18,240.09 71.19,239.42 71.19,238.76 71.19,238.09 71.20,237.42 71.20,236.76 71.20,236.09 71.21,235.43 71.21,234.76 71.21,234.09 71.22,233.43 71.22,232.76 71.22,232.09 71.23,231.43 71.23,230.76 71.24,230.10 71.24,229.43 71.24,228.76 71.25,228.10 71.25,227.43 71.26,226.77 71.26,226.10 71.27,225.43 71.27,224.77 71.28,224.10 71.29,223.44 71.29,222.77 71.30,222.10 71.31,221.44 71.31,220.77 71.32,220.11 71.33,219.44 71.34,218.77 71.35,218.11 71.37,217.44 71.38,216.77 71.39,216.11 71.41,215.44 71.42,214.78 71.44,214.11 71.46,213.44 71.47,212.78 71.49,212.11 71.51,211.45 71.53,210.78 71.55,210.11 71.57,209.45 71.59,208.78 71.61,208.12 71.63,207.45 71.65,206.79 71.67,206.12 71.69,205.45 71.72,204.79 71.74,204.12 71.76,203.46 71.79,202.79 71.81,202.13 71.83,201.46 71.86,200.79 71.88,200.13 71.91,199.46 71.94,198.80 71.97,198.13 72.00,197.46 72.03,196.80 72.06,196.13 72.09,195.47 72.13,194.80 72.17,194.13 72.20,193.47 72.24,192.80 72.28,192.14 72.33,191.47 72.37,190.81 72.42,190.15 72.47,189.48 72.50,188.82 72.48,188.16 72.47,187.49 72.45,186.83 72.44,186.16 72.42,185.49 72.40,184.83 72.38,184.17 72.35,183.51 72.32,182.85 72.34,182.20 72.48,181.56 72.65,180.87 72.87,180.20 73.14,179.58 73.45,179.06 73.91,178.60 74.53,178.21 75.14,178.11 75.77,178.39 76.31,178.79 76.74,179.27 77.13,179.84 77.51,180.41 77.88,180.96 78.23,181.52 78.58,182.09 78.92,182.66 79.26,183.24 79.60,183.81 79.95,184.38 80.30,184.95 80.64,185.52 80.99,186.09 81.34,186.66 81.70,187.22 82.07,187.77 82.45,188.31 82.85,188.85 83.26,189.38 83.69,189.89 84.13,190.40 84.58,190.88 85.05,191.36 85.53,191.84 86.02,192.31 86.54,192.76 87.07,193.16 87.61,193.50 88.19,193.79 88.79,194.08 89.42,194.35 90.06,194.59 90.72,194.77 91.38,194.88 92.03,194.90 92.70,194.90 93.38,194.90 94.03,194.90 94.67,194.84 95.30,194.68 95.92,194.45 96.53,194.16 97.14,193.84 97.75,193.51 98.36,193.19 98.98,192.90 99.60,192.67 100.23,192.45 100.86,192.23 101.49,192.02 102.13,191.81 102.76,191.60 103.40,191.40 104.04,191.20 104.68,191.01 105.32,190.82 105.96,190.64 106.60,190.47 107.25,190.30 107.89,190.15 108.54,190.00 109.19,189.86 109.84,189.73 110.49,189.60 111.15,189.48 111.80,189.36 112.46,189.25 113.12,189.14 113.78,189.03 114.44,188.93 115.10,188.84 115.76,188.75 116.42,188.67 117.08,188.59 117.75,188.51 118.43,188.43 119.10,188.35 119.77,188.28 120.44,188.23 121.08,188.20 121.70,188.25 122.31,188.55 122.89,188.93 123.46,189.28 124.01,189.64 124.56,190.02 125.10,190.41 125.64,190.81 126.19,191.19 126.74,191.56 127.30,191.92 127.86,192.28 128.42,192.64 128.98,193.00 129.55,193.35 130.11,193.71 130.68,194.06 131.25,194.41 131.81,194.75 132.38,195.10 132.95,195.45 133.52,195.80 134.09,196.14 134.66,196.49 135.23,196.84 135.80,197.19 136.36,197.54 136.93,197.88 137.50,198.24 138.06,198.59 138.63,198.94 139.20,199.29 139.76,199.64 140.33,199.98 140.90,200.33 141.47,200.68 142.04,201.02 142.61,201.37 143.18,201.72 143.75,202.06 144.32,202.41 144.89,202.76 145.46,203.10 146.03,203.45 146.59,203.80 147.16,204.15 147.73,204.50 148.29,204.85 148.86,205.20 149.42,205.56 149.99,205.91 150.55,206.27 151.11,206.63 151.67,206.99 152.22,207.36 152.78,207.72 153.33,208.09 153.89,208.46 154.43,208.84 154.98,209.22 155.52,209.61 156.06,210.01 156.59,210.40 157.13,210.80 157.67,211.20 158.20,211.60 158.74,212.00 159.28,212.39 159.82,212.78 160.36,213.17 160.90,213.55 161.45,213.92 162.01,214.29 162.57,214.64 163.13,214.99 163.70,215.34 164.27,215.68 164.85,216.02 165.43,216.35 166.01,216.68 166.59,217.00 167.18,217.32 167.76,217.64 168.35,217.95 168.94,218.26 169.54,218.57 170.13,218.87 170.72,219.17 171.32,219.47 171.92,219.77 172.52,220.06 173.13,220.34 173.74,220.61 174.35,220.86 174.97,221.09 175.60,221.30 176.23,221.51 176.87,221.71 177.51,221.90 178.15,222.08 178.80,222.25 179.45,222.42 180.10,222.57 180.75,222.72 181.40,222.86 182.05,222.99 182.70,223.11 183.35,223.24 184.00,223.35 184.66,223.47 185.32,223.58 185.97,223.68 186.63,223.79 187.29,223.89 187.95,223.98 188.61,224.08 189.27,224.17 189.93,224.27 190.59,224.36 191.25,224.45 191.92,224.53 192.58,224.62 193.24,224.71 193.90,224.80 194.56,224.88 195.22,224.97 195.88,225.06 196.54,225.15 197.20,225.23 197.86,225.32 198.52,225.41 199.19,225.49 199.85,225.58 200.51,225.66 201.17,225.75 201.83,225.83 202.49,225.91 203.15,225.99 203.81,226.07 204.47,226.15 205.13,226.23 205.80,226.31 206.46,226.39 207.12,226.47 207.78,226.55 208.44,226.63 209.10,226.70 209.77,226.78 210.43,226.86 211.09,226.93 211.75,227.01 212.41,227.09 213.08,227.16 213.74,227.24 214.40,227.31 215.06,227.39 215.72,227.46 216.39,227.54 217.05,227.61 217.71,227.69 218.37,227.76 219.03,227.84 219.69,227.91 220.36,227.98 221.02,228.06 221.68,228.13 222.34,228.20 223.01,228.27 223.67,228.34 224.33,228.41 224.99,228.48 225.66,228.55 226.32,228.62 226.98,228.68 227.64,228.75 228.31,228.82 228.97,228.89 229.63,228.96 230.30,229.03 230.96,229.09 231.62,229.16 232.28,229.23 232.95,229.30 233.61,229.37 234.27,229.44 234.93,229.51 235.60,229.58 236.26,229.65 236.92,229.72 237.58,229.80 238.24,229.87 238.91,229.95 239.57,230.02 240.23,230.10 240.89,230.18 241.55,230.25 242.21,230.33 242.87,230.42 243.54,230.50 244.20,230.58 244.86,230.67 245.52,230.75 246.18,230.84 246.84,230.92 247.50,231.01 248.16,231.10 248.82,231.19 249.48,231.28 250.14,231.37 250.80,231.46 251.46,231.55 252.12,231.64 252.78,231.73 253.44,231.82 254.10,231.91 254.76,232.00 255.42,232.09 256.08,232.18 256.74,232.27 257.40,232.36 258.06,232.44 258.72,232.53 259.38,232.62 260.04,232.71 260.70,232.79 261.36,232.88 262.02,232.96 262.68,233.05 263.35,233.14 264.01,233.22 264.67,233.31 265.33,233.40 265.99,233.48 266.65,233.57 267.31,233.66 267.97,233.74 268.63,233.83 269.29,233.92 269.95,234.01 270.61,234.09 271.27,234.18 271.93,234.27 272.59,234.35 273.25,234.44 273.91,234.52 274.57,234.61 275.23,234.70 275.90,234.78 276.56,234.87 277.22,234.96 277.88,235.04 278.54,235.13 279.20,235.21 279.86,235.30 280.52,235.38 281.18,235.47 281.84,235.55 282.50,235.64 283.16,235.72 283.82,235.81 284.48,235.89 285.14,235.98 285.81,236.06 286.47,236.14 287.13,236.23 287.79,236.31 288.45,236.39 289.11,236.48 289.77,236.56 290.43,236.64 291.09,236.72 291.75,236.80 292.42,236.88 293.08,236.97 293.74,237.05 294.40,237.13 295.06,237.21 295.72,237.29 296.38,237.37 297.04,237.44 297.71,237.52 298.37,237.60 299.03,237.68 299.69,237.75 300.35,237.83 301.01,237.91 301.68,237.98 302.34,238.06 303.00,238.13 303.66,238.21 304.32,238.28 304.99,238.36 305.65,238.43 306.31,238.50 306.97,238.58 307.63,238.65 308.30,238.72 308.96,238.79 309.62,238.87 310.28,238.94 310.95,239.01 311.61,239.08 312.27,239.15 312.93,239.23 313.60,239.30 314.26,239.37 314.92,239.44 315.58,239.51 316.25,239.58 316.91,239.66 317.57,239.73 318.23,239.80 318.89,239.87 319.56,239.94 320.22,240.02 320.88,240.09 321.54,240.16 322.21,240.23 322.87,240.31 323.53,240.38 324.19,240.45 324.85,240.53 325.52,240.60 326.18,240.67 326.84,240.75 327.50,240.82 328.16,240.90 328.83,240.97 329.49,241.05 330.15,241.12 330.81,241.20 331.47,241.28 332.13,241.35 332.80,241.43 333.46,241.51 334.12,241.59 334.78,241.67 335.44,241.75 336.10,241.83 336.76,241.91 337.43,241.99 338.09,242.07 338.75,242.15 339.41,242.24 340.07,242.32 340.73,242.41 341.39,242.49 342.05,242.58 342.71,242.66 343.37,242.75 344.03,242.84 344.69,242.93 345.35,243.02 346.01,243.11 346.67,243.20 347.33,243.29 347.99,243.38 348.65,243.47 349.31,243.57 349.97,243.66 350.63,243.75 351.29,243.85 351.95,243.94 352.61,244.04 353.27,244.13 353.93,244.23 354.59,244.32 355.25,244.42 355.90,244.51 356.56,244.61 357.22,244.71 357.88,244.81 358.54,244.90 359.20,245.00"/>
</g>
<g clip-path="url(#cb)">
<polyline stroke="#ff0000" points="64.40,241.00 64.40,240.33 64.40,239.66 64.41,238.99 64.41,238.33 64.42,237.66 64.43,236.99 64.44,236.32 64.45,235.66 64.46,234.99 64.48,234.32 64.49,233.66 64.51,232.99 64.53,232.32 64.55,231.66 64.57,230.99 64.59,230.33 64.61,229.66 64.64,228.99 64.66,228.33 64.69,227.66 64.71,227.00 64.74,226.33 64.77,225.67 64.80,225.00 64.83,224.34 64.86,223.68 64.89,223.01 64.92,222.35 64.95,221.68 64.98,221.02 65.02,220.36 65.06,219.69 65.11,219.03 65.16,218.36 65.22,217.70 65.28,217.04 65.35,216.37 65.43,215.71 65.51,215.05 65.59,214.39 65.68,213.72 65.77,213.06 65.86,212.40 65.96,211.74 66.05,211.08 66.15,210.42 66.25,209.76 66.35,209.11 66.45,208.45 66.56,207.79 66.66,207.12 66.77,206.45 66.88,205.79 67.00,205.12 67.13,204.45 67.26,203.79 67.40,203.13 67.54,202.48 67.70,201.84 67.87,201.20 68.05,200.58 68.25,199.96 68.46,199.35 68.71,198.71 69.00,198.07 69.32,197.42 69.67,196.79 70.05,196.20 70.45,195.65 70.87,195.16 71.31,194.75 71.76,194.42 72.28,194.10 72.85,193.79 73.46,193.50 74.11,193.23 74.78,192.99 75.46,192.79 76.15,192.61 76.83,192.48 77.48,192.40 78.13,192.35 78.78,192.29 79.43,192.25 80.09,192.20 80.75,192.16 81.42,192.12 82.09,192.08 82.76,192.05 83.43,192.02 84.10,192.00 84.77,191.97 85.45,191.95 86.12,191.94 86.79,191.92 87.46,191.91 88.13,191.90 88.80,191.90 89.46,191.89 90.13,191.89 90.79,191.89 91.46,191.88 92.13,191.88 92.79,191.87 93.46,191.87 94.12,191.87 94.79,191.86 95.46,191.86 96.12,191.86 96.79,191.85 97.46,191.85 98.12,191.85 98.79,191.84 99.45,191.84 100.12,191.84 100.79,191.84 101.45,191.83 102.12,191.83 102.79,191.83 103.45,191.83 104.12,191.82 104.78,191.82 105.45,191.82 106.12,191.82 106.78,191.82 107.45,191.81 108.12,191.81 108.78,191.81 109.45,191.81 110.12,191.81 110.78,191.81 111.45,191.81 112.12,191.81 112.78,191.80 113.45,191.80 114.11,191.80 114.78,191.80 115.45,191.80 116.11,191.80 116.78,191.80 117.45,191.80 118.11,191.80 118.78,191.80 119.44,191.80 120.11,191.80 120.78,191.80 121.44,191.80 122.11,191.80 122.78,191.80 123.44,191.80 124.11,191.80 124.78,191.80 125.44,191.80 126.11,191.80 126.77,191.80 127.44,191.80 128.11,191.80 128.77,191.80 129.44,191.80 130.11,191.80 130.77,191.80 131.44,191.80 132.10,191.80 132.77,191.80 133.44,191.80 134.10,191.80 134.77,191.80 135.44,191.80 136.10,191.80 136.77,191.80 137.43,191.80 138.10,191.80 138.77,191.80 139.43,191.80 140.10,191.80 140.77,191.80 141.43,191.80 142.10,191.80 142.76,191.80 143.43,191.80 144.10,191.80 144.76,191.80 145.43,191.80 146.10,191.80 146.76,191.80 147.43,191.80 148.09,191.80 148.76,191.80 149.43,191.80 150.09,191.80 150.76,191.80 151.43,191.80 152.09,191.80 152.76,191.80 153.42,191.80 154.09,191.80 154.76,191.80 155.42,191.80 156.09,191.80 156.76,191.80 157.42,191.80 158.09,191.80 158.75,191.80 159.42,191.80 160.09,191.80 160.75,191.80 161.42,191.80 162.09,191.80 162.75,191.80 163.42,191.80 164.08,191.80 164.75,191.80 165.42,191.80 166.08,191.80 166.75,191.80 167.42,191.80 168.08,191.80 168.75,191.80 169.41,191.80 170.08,191.80 170.75,191.80 171.41,191.80 172.08,191.80 172.75,191.80 173.41,191.80 174.08,191.80 174.74,191.80 175.41,191.80 176.08,191.80 176.74,191.80 177.41,191.80 178.08,191.80 178.74,191.80 179.41,191.80 180.07,191.80 180.74,191.80 181.41,191.80 182.07,191.80 182.74,191.80 183.41,191.80 184.07,191.80 184.74,191.80 185.40,191.80 186.07,191.80 186.74,191.80 187.40,191.80 188.07,191.80 188.74,191.80 189.40,191.80 190.07,191.80 190.74,191.80 191.40,191.80 192.07,191.80 192.73,191.80 193.40,191.80 194.07,191.80 194.73,191.80 195.40,191.80 196.07,191.80 196.73,191.80 197.40,191.80 198.06,191.80 198.73,191.80 199.40,191.80 200.06,191.80 200.73,191.80 201.40,191.80 202.06,191.80 202.73,191.80 203.39,191.80 204.06,191.80 204.73,191.80 205.39,191.80 206.06,191.80 206.73,191.80 207.39,191.80 208.06,191.80 208.72,191.80 209.39,191.80 210.06,191.80 210.72,191.80 211.39,191.80 212.06,191.80 212.72,191.80 213.39,191.80 214.05,191.80 214.72,191.80 215.39,191.80 216.05,191.80 216.72,191.80 217.39,191.80 218.05,191.80 218.72,191.80 219.38,191.80 220.05,191.80 220.72,191.80 221.38,191.80 222.05,191.80 222.72,191.80 223.38,191.80 224.05,191.80 224.71,191.80 225.38,191.80 226.05,191.80 226.71,191.80 227.38,191.80 228.05,191.80 228.71,191.80 229.38,191.80 230.04,191.80 230.71,191.80 231.38,191.80 232.04,191.80 232.71,191.80 233.38,191.80 234.04,191.80 234.71,191.80 235.37,191.80 236.04,191.80 236.71,191.80 237.37,191.80 238.04,191.80 238.71,191.80 239.37,191.80 240.04,191.80 240.70,191.80 241.37,191.80 242.04,191.80 242.70,191.80 243.37,191.80 244.04,191.80 244.70,191.80 245.37,191.80 246.03,191.80 246.70,191.80 247.37,191.80 248.03,191.80 248.70,191.80 249.37,191.80 250.03,191.80 250.70,191.80 251.36,191.80 252.03,191.80 252.70,191.80 253.36,191.80 254.03,191.80 254.70,191.80 255.36,191.80 256.03,191.80 256.70,191.80 257.36,191.80 258.03,191.80 258.69,191.80 259.36,191.80 260.03,191.80 260.69,191.80 261.36,191.80 262.03,191.80 262.69,191.80 263.36,191.80 264.02,191.80 264.69,191.80 265.36,191.80 266.02,191.80 266.69,191.80 267.36,191.80 268.02,191.80 268.69,191.80 269.35,191.80 270.02,191.80 270.69,191.80 271.35,191.80 272.02,191.80 272.69,191.80 273.35,191.80 274.02,191.80 274.68,191.80 275.35,191.80 276.02,191.80 276.68,191.80 277.35,191.80 278.02,191.80 278.68,191.80 279.35,191.80 280.01,191.80 280.68,191.80 281.35,191.80 282.01,191.80 282.68,191.80 283.35,191.80 284.01,191.80 284.68,191.80 285.34,191.80 286.01,191.80 286.68,191.80 287.34,191.80 288.01,191.80 288.68,191.80 289.34,191.80 290.01,191.80 290.67,191.80 291.34,191.80 292.01,191.80 292.67,191.80 293.34,191.80 294.01,191.80 294.67,191.80 295.34,191.80 296.00,191.80 296.67,191.80 297.34,191.80 298.00,191.80 298.67,191.80 299.34,191.80 300.00,191.80 300.67,191.80 301.33,191.80 302.00,191.80 302.67,191.80 303.33,191.80 304.00,191.80 304.67,191.80 305.33,191.80 306.00,191.80 306.66,191.80 307.33,191.80 308.00,191.80 308.66,191.80 309.33,191.80 310.00,191.80 310.66,191.80 311.33,191.80 312.00,191.80 312.66,191.80 313.33,191.80 313.99,191.80 314.66,191.80 315.33,191.80 315.99,191.80 316.66,191.80 317.33,191.80 317.99,191.80 318.66,191.80 319.32,191.80 319.99,191.80 320.66,191.80 321.32,191.80 321.99,191.80 322.66,191.80 323.32,191.80 323.99,191.80 324.65,191.80 325.32,191.80 325.99,191.80 326.65,191.80 327.32,191.80 327.99,191.80 328.65,191.80 329.32,191.80 329.98,191.80 330.65,191.80 331.32,191.80 331.98,191.80 332.65,191.80 333.32,191.80 333.98,191.80 334.65,191.80 335.31,191.80 335.98,191.80 336.65,191.80 337.31,191.80 337.98,191.80 338.65,191.80 339.31,191.80 339.98,191.80 340.64,191.80 341.31,191.80 341.98,191.80 342.64,191.80 343.31,191.80 343.98,191.80 344.64,191.80 345.31,191.80 345.97,191.80 346.64,191.80 347.31,191.80 347.97,191.80 348.64,191.80 349.31,191.80 349.97,191.80 350.64,191.80 351.30,191.80 351.97,191.80 352.64,191.80 353.30,191.80 353.97,191.80 354.64,191.80 355.30,191.80 355.97,191.80 356.63,191.80 357.30,191.80 357.97,191.80 358.63,191.80 359.30,191.80"/>
<polyline stroke="#00ff00" stroke-dasharray="3.20 1.36" points="69.50,286.80 69.64,286.15 69.78,285.50 69.92,284.85 70.06,284.20 70.21,283.55 70.35,282.90 70.50,282.25 70.65,281.60 70.80,280.95 70.95,280.30 71.10,279.65 71.26,279.00 71.41,278.36 71.57,277.71 71.73,277.06 71.89,276.42 72.05,275.77 72.21,275.13 72.38,274.48 72.54,273.84 72.71,273.19 72.87,272.55 73.04,271.90 73.21,271.26 73.38,270.61 73.55,269.97 73.72,269.32 73.88,268.68 74.05,268.03 74.21,267.38 74.37,266.73 74.53,266.08 74.68,265.43 74.84,264.77 75.01,264.12 75.17,263.48 75.35,262.83 75.53,262.19 75.71,261.55 75.91,260.92 76.12,260.30 76.33,259.68 76.57,259.06 76.81,258.44 77.07,257.81 77.35,257.18 77.64,256.56 77.95,255.94 78.27,255.34 78.61,254.76 78.96,254.19 79.33,253.65 79.72,253.14 80.12,252.67 80.56,252.21 81.05,251.77 81.57,251.34 82.12,250.93 82.70,250.54 83.28,250.18 83.86,249.84 84.45,249.53 85.02,249.24 85.61,248.97 86.21,248.71 86.82,248.47 87.44,248.23 88.07,248.00 88.70,247.79 89.33,247.58 89.97,247.37 90.62,247.17 91.26,246.97 91.91,246.78 92.55,246.58 93.20,246.39 93.85,246.19 94.49,245.99 95.13,245.79 95.76,245.58 96.39,245.37 97.02,245.16 97.66,244.95 98.29,244.74 98.92,244.54 99.56,244.33 100.19,244.12 100.82,243.92 101.46,243.71 102.09,243.51 102.73,243.31 103.36,243.11 104.00,242.91 104.63,242.71 105.27,242.51 105.90,242.32 106.54,242.12 107.18,241.93 107.81,241.74 108.45,241.54 109.09,241.35 109.73,241.16 110.37,240.97 111.00,240.78 111.64,240.59 112.28,240.40 112.92,240.21 113.56,240.02 114.20,239.84 114.84,239.66 115.48,239.48 116.12,239.30 116.77,239.12 117.41,238.95 118.05,238.77 118.69,238.61 119.34,238.44 119.98,238.28 120.63,238.11 121.28,237.95 121.92,237.79 122.57,237.63 123.22,237.47 123.86,237.31 124.51,237.15 125.16,237.00 125.81,236.84 126.46,236.69 127.11,236.55 127.76,236.41 128.41,236.27 129.06,236.14 129.72,236.01 130.37,235.88 131.02,235.77 131.68,235.65 132.33,235.54 132.99,235.43 133.65,235.32 134.31,235.22 134.97,235.12 135.63,235.02 136.29,234.92 136.95,234.83 137.61,234.75 138.27,234.67 138.93,234.60 139.59,234.54 140.26,234.48 140.92,234.42 141.58,234.37 142.25,234.32 142.91,234.27 143.57,234.23 144.24,234.18 144.90,234.14 145.57,234.10 146.23,234.07 146.90,234.03 147.57,234.00 148.23,233.97 148.90,233.94 149.56,233.92 150.23,233.89 150.89,233.87 151.56,233.85 152.22,233.83 152.89,233.81 153.55,233.79 154.22,233.77 154.88,233.75 155.55,233.73 156.22,233.71 156.88,233.69 157.55,233.67 158.21,233.65 158.88,233.64 159.54,233.62 160.21,233.60 160.87,233.59 161.54,233.57 162.20,233.55 162.87,233.54 163.54,233.52 164.20,233.51 164.87,233.49 165.53,233.48 166.20,233.46 166.86,233.45 167.53,233.44 168.20,233.42 168.86,233.41 169.53,233.40 170.19,233.39 170.86,233.37 171.53,233.36 172.19,233.35 172.86,233.34 173.52,233.32 174.19,233.31 174.86,233.30 175.52,233.29 176.19,233.28 176.85,233.27 177.52,233.26 178.18,233.25 178.85,233.23 179.52,233.22 180.18,233.21 180.85,233.20 181.51,233.19 182.18,233.18 182.85,233.17 183.51,233.16 184.18,233.15 184.84,233.14 185.51,233.13 186.18,233.12 186.84,233.11 187.51,233.10 188.17,233.09 188.84,233.08 189.51,233.07 190.17,233.06 190.84,233.05 191.50,233.04 192.17,233.02 192.84,233.01 193.50,233.00 194.17,232.99 194.83,232.98 195.50,232.97 196.17,232.96 196.83,232.95 197.50,232.94 198.16,232.92 198.83,232.91 199.49,232.90 200.16,232.89 200.83,232.88 201.49,232.86 202.16,232.85 202.82,232.84 203.49,232.83 204.16,232.81 204.82,232.80 205.49,232.79 206.15,232.78 206.82,232.77 207.48,232.75 208.15,232.74 208.82,232.73 209.48,232.72 210.15,232.70 210.81,232.69 211.48,232.68 212.14,232.67 212.81,232.66 213.48,232.64 214.14,232.63 214.81,232.62 215.47,232.61 216.14,232.59 216.81,232.58 217.47,232.57 218.14,232.56 218.80,232.55 219.47,232.53 220.13,232.52 220.80,232.51 221.47,232.50 222.13,232.49 222.80,232.47 223.46,232.46 224.13,232.45 224.80,232.44 225.46,232.43 226.13,232.42 226.79,232.40 227.46,232.39 228.12,232.38 228.79,232.37 229.46,232.36 230.12,232.35 230.79,232.33 231.45,232.32 232.12,232.31 232.78,232.30 233.45,232.29 234.12,232.28 234.78,232.27 235.45,232.26 236.11,232.25 236.78,232.23 237.45,232.22 238.11,232.21 238.78,232.20 239.44,232.19 240.11,232.18 240.77,232.17 241.44,232.16 242.11,232.15 242.77,232.14 243.44,232.13 244.10,232.12 244.77,232.11 245.44,232.10 246.10,232.09 246.77,232.08 247.43,232.07 248.10,232.06 248.76,232.05 249.43,232.04 250.10,232.03 250.76,232.02 251.43,232.01 252.09,232.00 252.76,231.99 253.43,231.98 254.09,231.97 254.76,231.97 255.42,231.96 256.09,231.95 256.75,231.94 257.42,231.93 258.09,231.92 258.75,231.92 259.42,231.91 260.08,231.90 260.75,231.89 261.42,231.88 262.08,231.88 262.75,231.87 263.41,231.86 264.08,231.85 264.74,231.84 265.41,231.84 266.08,231.83 266.74,231.82 267.41,231.81 268.07,231.80 268.74,231.80 269.41,231.79 270.07,231.78 270.74,231.77 271.40,231.77 272.07,231.76 272.74,231.75 273.40,231.74 274.07,231.73 274.73,231.73 275.40,231.72 276.06,231.71 276.73,231.70 277.40,231.70 278.06,231.69 278.73,231.68 279.39,231.67 280.06,231.67 280.73,231.66 281.39,231.65 282.06,231.64 282.72,231.64 283.39,231.63 284.05,231.62 284.72,231.61 285.39,231.61 286.05,231.60 286.72,231.59 287.38,231.58 288.05,231.58 288.72,231.57 289.38,231.56 290.05,231.56 290.71,231.55 291.38,231.54 292.05,231.53 292.71,231.53 293.38,231.52 294.04,231.51 294.71,231.51 295.37,231.50 296.04,231.49 296.71,231.48 297.37,231.48 298.04,231.47 298.70,231.46 299.37,231.46 300.04,231.45 300.70,231.44 301.37,231.44 302.03,231.43 302.70,231.42 303.36,231.42 304.03,231.41 304.70,231.40 305.36,231.40 306.03,231.39 306.69,231.38 307.36,231.38 308.03,231.37 308.69,231.37 309.36,231.36 310.02,231.35 310.69,231.35 311.36,231.34 312.02,231.33 312.69,231.33 313.35,231.32 314.02,231.32 314.68,231.31 315.35,231.30 316.02,231.30 316.68,231.29 317.35,231.29 318.01,231.28 318.68,231.27 319.35,231.27 320.01,231.26 320.68,231.26 321.34,231.25 322.01,231.24 322.68,231.24 323.34,231.23 324.01,231.23 324.67,231.22 325.34,231.22 326.00,231.21 326.67,231.21 327.34,231.20 328.00,231.20 328.67,231.19 329.33,231.19 330.00,231.18 330.67,231.18 331.33,231.17 332.00,231.16 332.66,231.16 333.33,231.16 334.00,231.15 334.66,231.15 335.33,231.14 335.99,231.14 336.66,231.13 337.33,231.13 337.99,231.12 338.66,231.12 339.32,231.11 339.99,231.11 340.65,231.10 341.32,231.10 341.99,231.09 342.65,231.09 343.32,231.09 343.98,231.08 344.65,231.08 345.32,231.07 345.98,231.07 346.65,231.07 347.31,231.06 347.98,231.06 348.65,231.05 349.31,231.05 349.98,231.05 350.64,231.04 351.31,231.04 351.97,231.04 352.64,231.03 353.31,231.03 353.97,231.03 354.64,231.02 355.30,231.02 355.97,231.02 356.64,231.01 357.30,231.01 357.97,231.01 358.63,231.00 359.30,231.00"/>
<polyline stroke="#0000ff" stroke-dasharray="1.50 2.25" points="69.50,290.73 69.64,290.08 69.78,289.43 69.92,288.78 70.06,288.13 70.21,287.48 70.35,286.83 70.50,286.18 70.65,285.53 70.80,284.88 70.95,284.23 71.10,283.59 71.26,282.94 71.41,282.29 71.57,281.64 71.73,281.00 71.89,280.35 72.05,279.70 72.21,279.06 72.38,278.41 72.54,277.77 72.71,277.12 72.87,276.48 73.04,275.83 73.21,275.19 73.38,274.54 73.55,273.90 73.72,273.26 73.88,272.61 74.05,271.96 74.21,271.32 74.37,270.66 74.53,270.01 74.68,269.36 74.84,268.71 75.01,268.06 75.17,267.41 75.35,266.76 75.53,266.12 75.71,265.49 75.91,264.86 76.12,264.23 76.33,263.61 76.57,263.00 76.81,262.37 77.07,261.75 77.35,261.12 77.64,260.49 77.95,259.88 78.27,259.27 78.61,258.69 78.96,258.12 79.33,257.58 79.72,257.08 80.12,256.60 80.56,256.14 81.05,255.70 81.57,255.27 82.12,254.86 82.70,254.47 83.28,254.11 83.86,253.77 84.45,253.46 85.02,253.18 85.61,252.90 86.21,252.65 86.82,252.40 87.44,252.16 88.07,251.94 88.70,251.72 89.33,251.51 89.97,251.30 90.62,251.10 91.26,250.90 91.91,250.71 92.55,250.51 93.20,250.32 93.85,250.12 94.49,249.92 95.13,249.72 95.76,249.51 96.39,249.30 97.02,249.09 97.66,248.88 98.29,248.68 98.92,248.47 99.56,248.26 100.19,248.06 100.82,247.85 101.46,247.65 102.09,247.45 102.73,247.24 103.36,247.04 104.00,246.84 104.63,246.64 105.27,246.45 105.90,246.25 106.54,246.05 107.18,245.86 107.81,245.67 108.45,245.48 109.09,245.28 109.73,245.09 110.37,244.90 111.00,244.71 111.64,244.52 112.28,244.33 112.92,244.14 113.56,243.96 114.20,243.77 114.84,243.59 115.48,243.41 116.12,243.23 116.77,243.05 117.41,242.88 118.05,242.71 118.69,242.54 119.34,242.37 119.98,242.21 120.63,242.05 121.28,241.88 121.92,241.72 122.57,241.56 123.22,241.40 123.86,241.24 124.51,241.08 125.16,240.93 125.81,240.78 126.46,240.63 127.11,240.48 127.76,240.34 128.41,240.20 129.06,240.07 129.72,239.94 130.37,239.82 131.02,239.70 131.68,239.59 132.33,239.47 132.99,239.36 133.65,239.26 134.31,239.15 134.97,239.05 135.63,238.95 136.29,238.86 136.95,238.77 137.61,238.68 138.27,238.61 138.93,238.53 139.59,238.47 140.26,238.41 140.92,238.36 141.58,238.30 142.25,238.25 142.91,238.21 143.57,238.16 144.24,238.12 144.90,238.08 145.57,238.04 146.23,238.00 146.90,237.96 147.57,237.93 148.23,237.90 148.90,237.87 149.56,237.85 150.23,237.83 150.89,237.80 151.56,237.78 152.22,237.76 152.89,237.74 153.55,237.72 154.22,237.70 154.88,237.68 155.55,237.66 156.22,237.64 156.88,237.62 157.55,237.60 158.21,237.59 158.88,237.57 159.54,237.55 160.21,237.54 160.87,237.52 161.54,237.50 162.20,237.49 162.87,237.47 163.54,237.46 164.20,237.44 164.87,237.43 165.53,237.41 166.20,237.40 166.86,237.38 167.53,237.37 168.20,237.36 168.86,237.34 169.53,237.33 170.19,237.32 170.86,237.31 171.53,237.29 172.19,237.28 172.86,237.27 173.52,237.26 174.19,237.25 174.86,237.23 175.52,237.22 176.19,237.21 176.85,237.20 177.52,237.19 178.18,237.18 178.85,237.17 179.52,237.16 180.18,237.15 180.85,237.14 181.51,237.12 182.18,237.11 182.85,237.10 183.51,237.09 184.18,237.08 184.84,237.07 185.51,237.06 186.18,237.05 186.84,237.04 187.51,237.03 188.17,237.02 188.84,237.01 189.51,237.00 190.17,236.99 190.84,236.98 191.50,236.97 192.17,236.96 192.84,236.95 193.50,236.94 194.17,236.93 194.83,236.91 195.50,236.90 196.17,236.89 196.83,236.88 197.50,236.87 198.16,236.86 198.83,236.85 199.49,236.83 200.16,236.82 200.83,236.81 201.49,236.80 202.16,236.78 202.82,236.77 203.49,236.76 204.16,236.75 204.82,236.74 205.49,236.72 206.15,236.71 206.82,236.70 207.48,236.69 208.15,236.67 208.82,236.66 209.48,236.65 210.15,236.64 210.81,236.63 211.48,236.61 212.14,236.60 212.81,236.59 213.48,236.58 214.14,236.56 214.81,236.55 215.47,236.54 216.14,236.53 216.81,236.52 217.47,236.50 218.14,236.49 218.80,236.48 219.47,236.47 220.13,236.46 220.80,236.44 221.47,236.43 222.13,236.42 222.80,236.41 223.46,236.40 224.13,236.38 224.80,236.37 225.46,236.36 226.13,236.35 226.79,236.34 227.46,236.33 228.12,236.31 228.79,236.30 229.46,236.29 230.12,236.28 230.79,236.27 231.45,236.26 232.12,236.25 232.78,236.23 233.45,236.22 234.12,236.21 234.78,236.20 235.45,236.19 236.11,236.18 236.78,236.17 237.45,236.16 238.11,236.15 238.78,236.13 239.44,236.12 240.11,236.11 240.77,236.10 241.44,236.09 242.11,236.08 242.77,236.07 243.44,236.06 244.10,236.05 244.77,236.04 245.44,236.03 246.10,236.02 246.77,236.01 247.43,236.00 248.10,235.99 248.76,235.98 249.43,235.97 250.10,235.96 250.76,235.95 251.43,235.94 252.09,235.94 252.76,235.93 253.43,235.92 254.09,235.91 254.76,235.90 255.42,235.89 256.09,235.88 256.75,235.87 257.42,235.86 258.09,235.86 258.75,235.85 259.42,235.84 260.08,235.83 260.75,235.82 261.42,235.82 262.08,235.81 262.75,235.80 263.41,235.79 264.08,235.78 264.74,235.78 265.41,235.77 266.08,235.76 266.74,235.75 267.41,235.74 268.07,235.74 268.74,235.73 269.41,235.72 270.07,235.71 270.74,235.71 271.40,235.70 272.07,235.69 272.74,235.68 273.40,235.68 274.07,235.67 274.73,235.66 275.40,235.65 276.06,235.64 276.73,235.64 277.40,235.63 278.06,235.62 278.73,235.61 279.39,235.61 280.06,235.60 280.73,235.59 281.39,235.58 282.06,235.58 282.72,235.57 283.39,235.56 284.05,235.55 284.72,235.55 285.39,235.54 286.05,235.53 286.72,235.52 287.38,235.52 288.05,235.51 288.72,235.50 289.38,235.50 290.05,235.49 290.71,235.48 291.38,235.47 292.05,235.47 292.71,235.46 293.38,235.45 294.04,235.45 294.71,235.44 295.37,235.43 296.04,235.42 296.71,235.42 297.37,235.41 298.04,235.40 298.70,235.40 299.37,235.39 300.04,235.38 300.70,235.38 301.37,235.37 302.03,235.36 302.70,235.36 303.36,235.35 304.03,235.34 304.70,235.34 305.36,235.33 306.03,235.32 306.69,235.32 307.36,235.31 308.03,235.30 308.69,235.30 309.36,235.29 310.02,235.29 310.69,235.28 311.36,235.27 312.02,235.27 312.69,235.26 313.35,235.25 314.02,235.25 314.68,235.24 315.35,235.24 316.02,235.23 316.68,235.22 317.35,235.22 318.01,235.21 318.68,235.21 319.35,235.20 320.01,235.20 320.68,235.19 321.34,235.18 322.01,235.18 322.68,235.17 323.34,235.17 324.01,235.16 324.67,235.16 325.34,235.15 326.00,235.14 326.67,235.14 327.34,235.13 328.00,235.13 328.67,235.12 329.33,235.12 330.00,235.11 330.67,235.11 331.33,235.10 332.00,235.10 332.66,235.09 333.33,235.09 334.00,235.08 334.66,235.08 335.33,235.07 335.99,235.07 336.66,235.06 337.33,235.06 337.99,235.05 338.66,235.05 339.32,235.05 339.99,235.04 340.65,235.04 341.32,235.03 341.99,235.03 342.65,235.02 343.32,235.02 343.98,235.02 344.65,235.01 345.32,235.01 345.98,235.00 346.65,235.00 347.31,235.00 347.98,234.99 348.65,234.99 349.31,234.98 349.98,234.98 350.64,234.98 351.31,234.97 351.97,234.97 352.64,234.97 353.31,234.96 353.97,234.96 354.64,234.96 355.30,234.95 355.97,234.95 356.64,234.95 357.30,234.94 357.97,234.94 358.63,234.94 359.30,234.93"/>
<polyline stroke="#ff00ff" stroke-dasharray="0.90 1.00" points="69.50,296.28 69.64,295.62 69.78,294.97 69.92,294.32 70.06,293.67 70.21,293.02 70.35,292.37 70.50,291.72 70.65,291.07 70.80,290.42 70.95,289.78 71.10,289.13 71.26,288.48 71.41,287.83 71.57,287.19 71.73,286.54 71.89,285.89 72.05,285.25 72.21,284.60 72.38,283.96 72.54,283.31 72.71,282.67 72.87,282.02 73.04,281.38 73.21,280.73 73.38,280.09 73.55,279.44 73.72,278.80 73.88,278.16 74.05,277.51 74.21,276.86 74.37,276.21 74.53,275.55 74.68,274.90 74.84,274.25 75.01,273.60 75.17,272.95 75.35,272.31 75.53,271.67 75.71,271.03 75.91,270.40 76.12,269.77 76.33,269.16 76.57,268.54 76.81,267.92 77.07,267.29 77.35,266.66 77.64,266.04 77.95,265.42 78.27,264.82 78.61,264.23 78.96,263.67 79.33,263.13 79.72,262.62 80.12,262.14 80.56,261.69 81.05,261.24 81.57,260.81 82.12,260.40 82.70,260.02 83.28,259.65 83.86,259.31 84.45,259.00 85.02,258.72 85.61,258.45 86.21,258.19 86.82,257.94 87.44,257.71 88.07,257.48 88.70,257.26 89.33,257.05 89.97,256.85 90.62,256.65 91.26,256.45 91.91,256.25 92.55,256.06 93.20,255.86 93.85,255.67 94.49,255.47 95.13,255.26 95.76,255.06 96.39,254.85 97.02,254.64 97.66,254.43 98.29,254.22 98.92,254.01 99.56,253.81 100.19,253.60 100.82,253.40 101.46,253.19 102.09,252.99 102.73,252.79 103.36,252.59 104.00,252.39 104.63,252.19 105.27,251.99 105.90,251.79 106.54,251.60 107.18,251.40 107.81,251.21 108.45,251.02 109.09,250.83 109.73,250.64 110.37,250.44 111.00,250.25 111.64,250.06 112.28,249.87 112.92,249.69 113.56,249.50 114.20,249.32 114.84,249.13 115.48,248.95 116.12,248.77 116.77,248.60 117.41,248.42 118.05,248.25 118.69,248.08 119.34,247.92 119.98,247.75 120.63,247.59 121.28,247.43 121.92,247.26 122.57,247.10 123.22,246.94 123.86,246.78 124.51,246.63 125.16,246.47 125.81,246.32 126.46,246.17 127.11,246.03 127.76,245.88 128.41,245.75 129.06,245.61 129.72,245.48 130.37,245.36 131.02,245.24 131.68,245.13 132.33,245.02 132.99,244.91 133.65,244.80 134.31,244.70 134.97,244.59 135.63,244.49 136.29,244.40 136.95,244.31 137.61,244.23 138.27,244.15 138.93,244.08 139.59,244.01 140.26,243.95 140.92,243.90 141.58,243.85 142.25,243.80 142.91,243.75 143.57,243.70 144.24,243.66 144.90,243.62 145.57,243.58 146.23,243.54 146.90,243.51 147.57,243.48 148.23,243.44 148.90,243.42 149.56,243.39 150.23,243.37 150.89,243.35 151.56,243.32 152.22,243.30 152.89,243.28 153.55,243.26 154.22,243.24 154.88,243.22 155.55,243.20 156.22,243.18 156.88,243.17 157.55,243.15 158.21,243.13 158.88,243.11 159.54,243.10 160.21,243.08 160.87,243.06 161.54,243.05 162.20,243.03 162.87,243.01 163.54,243.00 164.20,242.98 164.87,242.97 165.53,242.96 166.20,242.94 166.86,242.93 167.53,242.91 168.20,242.90 168.86,242.89 169.53,242.87 170.19,242.86 170.86,242.85 171.53,242.84 172.19,242.82 172.86,242.81 173.52,242.80 174.19,242.79 174.86,242.78 175.52,242.77 176.19,242.75 176.85,242.74 177.52,242.73 178.18,242.72 178.85,242.71 179.52,242.70 180.18,242.69 180.85,242.68 181.51,242.67 182.18,242.66 182.85,242.65 183.51,242.64 184.18,242.63 184.84,242.62 185.51,242.61 186.18,242.60 186.84,242.59 187.51,242.57 188.17,242.56 188.84,242.55 189.51,242.54 190.17,242.53 190.84,242.52 191.50,242.51 192.17,242.50 192.84,242.49 193.50,242.48 194.17,242.47 194.83,242.46 195.50,242.45 196.17,242.44 196.83,242.42 197.50,242.41 198.16,242.40 198.83,242.39 199.49,242.38 200.16,242.36 200.83,242.35 201.49,242.34 202.16,242.33 202.82,242.32 203.49,242.30 204.16,242.29 204.82,242.28 205.49,242.27 206.15,242.25 206.82,242.24 207.48,242.23 208.15,242.22 208.82,242.21 209.48,242.19 210.15,242.18 210.81,242.17 211.48,242.16 212.14,242.14 212.81,242.13 213.48,242.12 214.14,242.11 214.81,242.10 215.47,242.08 216.14,242.07 216.81,242.06 217.47,242.05 218.14,242.04 218.80,242.02 219.47,242.01 220.13,242.00 220.80,241.99 221.47,241.98 222.13,241.96 222.80,241.95 223.46,241.94 224.13,241.93 224.80,241.92 225.46,241.90 226.13,241.89 226.79,241.88 227.46,241.87 228.12,241.86 228.79,241.85 229.46,241.83 230.12,241.82 230.79,241.81 231.45,241.80 232.12,241.79 232.78,241.78 233.45,241.77 234.12,241.75 234.78,241.74 235.45,241.73 236.11,241.72 236.78,241.71 237.45,241.70 238.11,241.69 238.78,241.68 239.44,241.67 240.11,241.66 240.77,241.65 241.44,241.64 242.11,241.63 242.77,241.62 243.44,241.60 244.10,241.59 244.77,241.58 245.44,241.57 246.10,241.56 246.77,241.55 247.43,241.54 248.10,241.54 248.76,241.53 249.43,241.52 250.10,241.51 250.76,241.50 251.43,241.49 252.09,241.48 252.76,241.47 253.43,241.46 254.09,241.45 254.76,241.44 255.42,241.43 256.09,241.43 256.75,241.42 257.42,241.41 258.09,241.40 258.75,241.39 259.42,241.38 260.08,241.38 260.75,241.37 261.42,241.36 262.08,241.35 262.75,241.34 263.41,241.34 264.08,241.33 264.74,241.32 265.41,241.31 266.08,241.30 266.74,241.30 267.41,241.29 268.07,241.28 268.74,241.27 269.41,241.26 270.07,241.26 270.74,241.25 271.40,241.24 272.07,241.23 272.74,241.23 273.40,241.22 274.07,241.21 274.73,241.20 275.40,241.20 276.06,241.19 276.73,241.18 277.40,241.17 278.06,241.16 278.73,241.16 279.39,241.15 280.06,241.14 280.73,241.13 281.39,241.13 282.06,241.12 282.72,241.11 283.39,241.10 284.05,241.10 284.72,241.09 285.39,241.08 286.05,241.08 286.72,241.07 287.38,241.06 288.05,241.05 288.72,241.05 289.38,241.04 290.05,241.03 290.71,241.02 291.38,241.02 292.05,241.01 292.71,241.00 293.38,241.00 294.04,240.99 294.71,240.98 295.37,240.98 296.04,240.97 296.71,240.96 297.37,240.95 298.04,240.95 298.70,240.94 299.37,240.93 300.04,240.93 300.70,240.92 301.37,240.91 302.03,240.91 302.70,240.90 303.36,240.89 304.03,240.89 304.70,240.88 305.36,240.87 306.03,240.87 306.69,240.86 307.36,240.85 308.03,240.85 308.69,240.84 309.36,240.84 310.02,240.83 310.69,240.82 311.36,240.82 312.02,240.81 312.69,240.80 313.35,240.80 314.02,240.79 314.68,240.79 315.35,240.78 316.02,240.77 316.68,240.77 317.35,240.76 318.01,240.76 318.68,240.75 319.35,240.74 320.01,240.74 320.68,240.73 321.34,240.73 322.01,240.72 322.68,240.72 323.34,240.71 324.01,240.70 324.67,240.70 325.34,240.69 326.00,240.69 326.67,240.68 327.34,240.68 328.00,240.67 328.67,240.67 329.33,240.66 330.00,240.66 330.67,240.65 331.33,240.65 332.00,240.64 332.66,240.64 333.33,240.63 334.00,240.63 334.66,240.62 335.33,240.62 335.99,240.61 336.66,240.61 337.33,240.60 337.99,240.60 338.66,240.59 339.32,240.59 339.99,240.58 340.65,240.58 341.32,240.58 341.99,240.57 342.65,240.57 343.32,240.56 343.98,240.56 344.65,240.55 345.32,240.55 345.98,240.55 346.65,240.54 347.31,240.54 347.98,240.53 348.65,240.53 349.31,240.53 349.98,240.52 350.64,240.52 351.31,240.52 351.97,240.51 352.64,240.51 353.31,240.51 353.97,240.50 354.64,240.50 355.30,240.50 355.97,240.49 356.64,240.49 357.30,240.49 357.97,240.48 358.63,240.48 359.30,240.48"/>
<polyline stroke="#00ffff" stroke-dasharray="4.50 1.50 0.90 1.50" points="69.50,318.28 69.64,317.63 69.78,316.98 69.92,316.33 70.06,315.68 70.21,315.03 70.35,314.38 70.50,313.73 70.65,313.08 70.80,312.43 70.95,311.78 71.10,311.13 71.26,310.48 71.41,309.84 71.57,309.19 71.73,308.54 71.89,307.90 72.05,307.25 72.21,306.61 72.38,305.96 72.54,305.32 72.71,304.67 72.87,304.03 73.04,303.38 73.21,302.74 73.38,302.09 73.55,301.45 73.72,300.80 73.88,300.16 74.05,299.51 74.21,298.86 74.37,298.21 74.53,297.56 74.68,296.91 74.84,296.25 75.01,295.60 75.17,294.96 75.35,294.31 75.53,293.67 75.71,293.03 75.91,292.40 76.12,291.78 76.33,291.16 76.57,290.54 76.81,289.92 77.07,289.29 77.35,288.66 77.64,288.04 77.95,287.42 78.27,286.82 78.61,286.24 78.96,285.67 79.33,285.13 79.72,284.62 80.12,284.15 80.56,283.69 81.05,283.25 81.57,282.82 82.12,282.41 82.70,282.02 83.28,281.66 83.86,281.32 84.45,281.01 85.02,280.72 85.61,280.45 86.21,280.19 86.82,279.95 87.44,279.71 88.07,279.48 88.70,279.27 89.33,279.06 89.97,278.85 90.62,278.65 91.26,278.45 91.91,278.26 92.55,278.06 93.20,277.87 93.85,277.67 94.49,277.47 95.13,277.27 95.76,277.06 96.39,276.85 97.02,276.64 97.66,276.43 98.29,276.22 98.92,276.02 99.56,275.81 100.19,275.60 100.82,275.40 101.46,275.19 102.09,274.99 102.73,274.79 103.36,274.59 104.00,274.39 104.63,274.19 105.27,273.99 105.90,273.80 106.54,273.60 107.18,273.41 107.81,273.22 108.45,273.02 109.09,272.83 109.73,272.64 110.37,272.45 111.00,272.26 111.64,272.07 112.28,271.88 112.92,271.69 113.56,271.50 114.20,271.32 114.84,271.14 115.48,270.96 116.12,270.78 116.77,270.60 117.41,270.43 118.05,270.25 118.69,270.09 119.34,269.92 119.98,269.76 120.63,269.59 121.28,269.43 121.92,269.27 122.57,269.11 123.22,268.95 123.86,268.79 124.51,268.63 125.16,268.48 125.81,268.32 126.46,268.17 127.11,268.03 127.76,267.89 128.41,267.75 129.06,267.62 129.72,267.49 130.37,267.36 131.02,267.25 131.68,267.13 132.33,267.02 132.99,266.91 133.65,266.80 134.31,266.70 134.97,266.60 135.63,266.50 136.29,266.40 136.95,266.31 137.61,266.23 138.27,266.15 138.93,266.08 139.59,266.02 140.26,265.96 140.92,265.90 141.58,265.85 142.25,265.80 142.91,265.75 143.57,265.71 144.24,265.66 144.90,265.62 145.57,265.58 146.23,265.55 146.90,265.51 147.57,265.48 148.23,265.45 148.90,265.42 149.56,265.40 150.23,265.37 150.89,265.35 151.56,265.33 152.22,265.31 152.89,265.29 153.55,265.27 154.22,265.25 154.88,265.23 155.55,265.21 156.22,265.19 156.88,265.17 157.55,265.15 158.21,265.13 158.88,265.12 159.54,265.10 160.21,265.08 160.87,265.07 161.54,265.05 162.20,265.03 162.87,265.02 163.54,265.00 164.20,264.99 164.87,264.97 165.53,264.96 166.20,264.94 166.86,264.93 167.53,264.92 168.20,264.90 168.86,264.89 169.53,264.88 170.19,264.87 170.86,264.85 171.53,264.84 172.19,264.83 172.86,264.82 173.52,264.80 174.19,264.79 174.86,264.78 175.52,264.77 176.19,264.76 176.85,264.75 177.52,264.74 178.18,264.73 178.85,264.71 179.52,264.70 180.18,264.69 180.85,264.68 181.51,264.67 182.18,264.66 182.85,264.65 183.51,264.64 184.18,264.63 184.84,264.62 185.51,264.61 186.18,264.60 186.84,264.59 187.51,264.58 188.17,264.57 188.84,264.56 189.51,264.55 190.17,264.54 190.84,264.53 191.50,264.52 192.17,264.50 192.84,264.49 193.50,264.48 194.17,264.47 194.83,264.46 195.50,264.45 196.17,264.44 196.83,264.43 197.50,264.42 198.16,264.40 198.83,264.39 199.49,264.38 200.16,264.37 200.83,264.36 201.49,264.34 202.16,264.33 202.82,264.32 203.49,264.31 204.16,264.29 204.82,264.28 205.49,264.27 206.15,264.26 206.82,264.25 207.48,264.23 208.15,264.22 208.82,264.21 209.48,264.20 210.15,264.18 210.81,264.17 211.48,264.16 212.14,264.15 212.81,264.14 213.48,264.12 214.14,264.11 214.81,264.10 215.47,264.09 216.14,264.07 216.81,264.06 217.47,264.05 218.14,264.04 218.80,264.03 219.47,264.01 220.13,264.00 220.80,263.99 221.47,263.98 222.13,263.97 222.80,263.95 223.46,263.94 224.13,263.93 224.80,263.92 225.46,263.91 226.13,263.90 226.79,263.88 227.46,263.87 228.12,263.86 228.79,263.85 229.46,263.84 230.12,263.83 230.79,263.81 231.45,263.80 232.12,263.79 232.78,263.78 233.45,263.77 234.12,263.76 234.78,263.75 235.45,263.74 236.11,263.73 236.78,263.71 237.45,263.70 238.11,263.69 238.78,263.68 239.44,263.67 240.11,263.66 240.77,263.65 241.44,263.64 242.11,263.63 242.77,263.62 243.44,263.61 244.10,263.60 244.77,263.59 245.44,263.58 246.10,263.57 246.77,263.56 247.43,263.55 248.10,263.54 248.76,263.53 249.43,263.52 250.10,263.51 250.76,263.50 251.43,263.49 252.09,263.48 252.76,263.47 253.43,263.46 254.09,263.45 254.76,263.45 255.42,263.44 256.09,263.43 256.75,263.42 257.42,263.41 258.09,263.40 258.75,263.40 259.42,263.39 260.08,263.38 260.75,263.37 261.42,263.36 262.08,263.36 262.75,263.35 263.41,263.34 264.08,263.33 264.74,263.32 265.41,263.32 266.08,263.31 266.74,263.30 267.41,263.29 268.07,263.28 268.74,263.28 269.41,263.27 270.07,263.26 270.74,263.25 271.40,263.25 272.07,263.24 272.74,263.23 273.40,263.22 274.07,263.21 274.73,263.21 275.40,263.20 276.06,263.19 276.73,263.18 277.40,263.18 278.06,263.17 278.73,263.16 279.39,263.15 280.06,263.15 280.73,263.14 281.39,263.13 282.06,263.12 282.72,263.12 283.39,263.11 284.05,263.10 284.72,263.09 285.39,263.09 286.05,263.08 286.72,263.07 287.38,263.06 288.05,263.06 288.72,263.05 289.38,263.04 290.05,263.04 290.71,263.03 291.38,263.02 292.05,263.01 292.71,263.01 293.38,263.00 294.04,262.99 294.71,262.99 295.37,262.98 296.04,262.97 296.71,262.96 297.37,262.96 298.04,262.95 298.70,262.94 299.37,262.94 300.04,262.93 300.70,262.92 301.37,262.92 302.03,262.91 302.70,262.90 303.36,262.90 304.03,262.89 304.70,262.88 305.36,262.88 306.03,262.87 306.69,262.86 307.36,262.86 308.03,262.85 308.69,262.85 309.36,262.84 310.02,262.83 310.69,262.83 311.36,262.82 312.02,262.81 312.69,262.81 313.35,262.80 314.02,262.80 314.68,262.79 315.35,262.78 316.02,262.78 316.68,262.77 317.35,262.77 318.01,262.76 318.68,262.75 319.35,262.75 320.01,262.74 320.68,262.74 321.34,262.73 322.01,262.72 322.68,262.72 323.34,262.71 324.01,262.71 324.67,262.70 325.34,262.70 326.00,262.69 326.67,262.69 327.34,262.68 328.00,262.68 328.67,262.67 329.33,262.67 330.00,262.66 330.67,262.66 331.33,262.65 332.00,262.64 332.66,262.64 333.33,262.64 334.00,262.63 334.66,262.63 335.33,262.62 335.99,262.62 336.66,262.61 337.33,262.61 337.99,262.60 338.66,262.60 339.32,262.59 339.99,262.59 340.65,262.58 341.32,262.58 341.99,262.57 342.65,262.57 343.32,262.57 343.98,262.56 344.65,262.56 345.32,262.55 345.98,262.55 346.65,262.55 347.31,262.54 347.98,262.54 348.65,262.53 349.31,262.53 349.98,262.53 350.64,262.52 351.31,262.52 351.97,262.52 352.64,262.51 353.31,262.51 353.97,262.51 354.64,262.50 355.30,262.50 355.97,262.50 356.64,262.49 357.30,262.49 357.97,262.49 358.63,262.48 359.30,262.48"/>
<polyline stroke="#ffff00" stroke-dasharray="2.25 2.25 0.90 2.25" points="69.50,349.76 69.64,349.11 69.78,348.46 69.92,347.81 70.06,347.16 70.21,346.51 70.35,345.86 70.50,345.21 70.65,344.56 70.80,343.91 70.95,343.26 71.10,342.61 71.26,341.96 71.41,341.32 71.57,340.67 71.73,340.02 71.89,339.38 72.05,338.73 72.21,338.09 72.38,337.44 72.54,336.80 72.71,336.15 72.87,335.51 73.04,334.86 73.21,334.22 73.38,333.57 73.55,332.93 73.72,332.28 73.88,331.64 74.05,330.99 74.21,330.34 74.37,329.69 74.53,329.04 74.68,328.39 74.84,327.73 75.01,327.08 75.17,326.44 75.35,325.79 75.53,325.15 75.71,324.51 75.91,323.88 76.12,323.26 76.33,322.64 76.57,322.02 76.81,321.40 77.07,320.77 77.35,320.14 77.64,319.52 77.95,318.90 78.27,318.30 78.61,317.72 78.96,317.15 79.33,316.61 79.72,316.10 80.12,315.63 80.56,315.17 81.05,314.73 81.57,314.30 82.12,313.89 82.70,313.50 83.28,313.14 83.86,312.80 84.45,312.49 85.02,312.20 85.61,311.93 86.21,311.67 86.82,311.43 87.44,311.19 88.07,310.96 88.70,310.75 89.33,310.54 89.97,310.33 90.62,310.13 91.26,309.93 91.91,309.74 92.55,309.54 93.20,309.35 93.85,309.15 94.49,308.95 95.13,308.75 95.76,308.54 96.39,308.33 97.02,308.12 97.66,307.91 98.29,307.70 98.92,307.50 99.56,307.29 100.19,307.08 100.82,306.88 101.46,306.67 102.09,306.47 102.73,306.27 103.36,306.07 104.00,305.87 104.63,305.67 105.27,305.47 105.90,305.28 106.54,305.08 107.18,304.89 107.81,304.70 108.45,304.50 109.09,304.31 109.73,304.12 110.37,303.93 111.00,303.74 111.64,303.55 112.28,303.36 112.92,303.17 113.56,302.98 114.20,302.80 114.84,302.62 115.48,302.44 116.12,302.26 116.77,302.08 117.41,301.91 118.05,301.73 118.69,301.57 119.34,301.40 119.98,301.24 120.63,301.07 121.28,300.91 121.92,300.75 122.57,300.59 123.22,300.43 123.86,300.27 124.51,300.11 125.16,299.96 125.81,299.80 126.46,299.65 127.11,299.51 127.76,299.37 128.41,299.23 129.06,299.10 129.72,298.97 130.37,298.84 131.02,298.73 131.68,298.61 132.33,298.50 132.99,298.39 133.65,298.28 134.31,298.18 134.97,298.08 135.63,297.98 136.29,297.88 136.95,297.79 137.61,297.71 138.27,297.63 138.93,297.56 139.59,297.50 140.26,297.44 140.92,297.38 141.58,297.33 142.25,297.28 142.91,297.23 143.57,297.19 144.24,297.14 144.90,297.10 145.57,297.06 146.23,297.03 146.90,296.99 147.57,296.96 148.23,296.93 148.90,296.90 149.56,296.88 150.23,296.85 150.89,296.83 151.56,296.81 152.22,296.79 152.89,296.77 153.55,296.75 154.22,296.73 154.88,296.71 155.55,296.69 156.22,296.67 156.88,296.65 157.55,296.63 158.21,296.61 158.88,296.60 159.54,296.58 160.21,296.56 160.87,296.55 161.54,296.53 162.20,296.51 162.87,296.50 163.54,296.48 164.20,296.47 164.87,296.45 165.53,296.44 166.20,296.42 166.86,296.41 167.53,296.40 168.20,296.38 168.86,296.37 169.53,296.36 170.19,296.35 170.86,296.33 171.53,296.32 172.19,296.31 172.86,296.30 173.52,296.28 174.19,296.27 174.86,296.26 175.52,296.25 176.19,296.24 176.85,296.23 177.52,296.22 178.18,296.21 178.85,296.19 179.52,296.18 180.18,296.17 180.85,296.16 181.51,296.15 182.18,296.14 182.85,296.13 183.51,296.12 184.18,296.11 184.84,296.10 185.51,296.09 186.18,296.08 186.84,296.07 187.51,296.06 188.17,296.05 188.84,296.04 189.51,296.03 190.17,296.02 190.84,296.01 191.50,296.00 192.17,295.98 192.84,295.97 193.50,295.96 194.17,295.95 194.83,295.94 195.50,295.93 196.17,295.92 196.83,295.91 197.50,295.90 198.16,295.88 198.83,295.87 199.49,295.86 200.16,295.85 200.83,295.84 201.49,295.82 202.16,295.81 202.82,295.80 203.49,295.79 204.16,295.77 204.82,295.76 205.49,295.75 206.15,295.74 206.82,295.73 207.48,295.71 208.15,295.70 208.82,295.69 209.48,295.68 210.15,295.66 210.81,295.65 211.48,295.64 212.14,295.63 212.81,295.62 213.48,295.60 214.14,295.59 214.81,295.58 215.47,295.57 216.14,295.55 216.81,295.54 217.47,295.53 218.14,295.52 218.80,295.51 219.47,295.49 220.13,295.48 220.80,295.47 221.47,295.46 222.13,295.45 222.80,295.43 223.46,295.42 224.13,295.41 224.80,295.40 225.46,295.39 226.13,295.38 226.79,295.36 227.46,295.35 228.12,295.34 228.79,295.33 229.46,295.32 230.12,295.31 230.79,295.29 231.45,295.28 232.12,295.27 232.78,295.26 233.45,295.25 234.12,295.24 234.78,295.23 235.45,295.22 236.11,295.21 236.78,295.19 237.45,295.18 238.11,295.17 238.78,295.16 239.44,295.15 240.11,295.14 240.77,295.13 241.44,295.12 242.11,295.11 242.77,295.10 243.44,295.09 244.10,295.08 244.77,295.07 245.44,295.06 246.10,295.05 246.77,295.04 247.43,295.03 248.10,295.02 248.76,295.01 249.43,295.00 250.10,294.99 250.76,294.98 251.43,294.97 252.09,294.96 252.76,294.95 253.43,294.94 254.09,294.93 254.76,294.93 255.42,294.92 256.09,294.91 256.75,294.90 257.42,294.89 258.09,294.88 258.75,294.88 259.42,294.87 260.08,294.86 260.75,294.85 261.42,294.84 262.08,294.84 262.75,294.83 263.41,294.82 264.08,294.81 264.74,294.80 265.41,294.80 266.08,294.79 266.74,294.78 267.41,294.77 268.07,294.76 268.74,294.76 269.41,294.75 270.07,294.74 270.74,294.73 271.40,294.73 272.07,294.72 272.74,294.71 273.40,294.70 274.07,294.69 274.73,294.69 275.40,294.68 276.06,294.67 276.73,294.66 277.40,294.66 278.06,294.65 278.73,294.64 279.39,294.63 280.06,294.63 280.73,294.62 281.39,294.61 282.06,294.60 282.72,294.60 283.39,294.59 284.05,294.58 284.72,294.57 285.39,294.57 286.05,294.56 286.72,294.55 287.38,294.54 288.05,294.54 288.72,294.53 289.38,294.52 290.05,294.52 290.71,294.51 291.38,294.50 292.05,294.49 292.71,294.49 293.38,294.48 294.04,294.47 294.71,294.47 295.37,294.46 296.04,294.45 296.71,294.44 297.37,294.44 298.04,294.43 298.70,294.42 299.37,294.42 300.04,294.41 300.70,294.40 301.37,294.40 302.03,294.39 302.70,294.38 303.36,294.38 304.03,294.37 304.70,294.36 305.36,294.36 306.03,294.35 306.69,294.34 307.36,294.34 308.03,294.33 308.69,294.33 309.36,294.32 310.02,294.31 310.69,294.31 311.36,294.30 312.02,294.29 312.69,294.29 313.35,294.28 314.02,294.28 314.68,294.27 315.35,294.26 316.02,294.26 316.68,294.25 317.35,294.25 318.01,294.24 318.68,294.23 319.35,294.23 320.01,294.22 320.68,294.22 321.34,294.21 322.01,294.20 322.68,294.20 323.34,294.19 324.01,294.19 324.67,294.18 325.34,294.18 326.00,294.17 326.67,294.17 327.34,294.16 328.00,294.16 328.67,294.15 329.33,294.15 330.00,294.14 330.67,294.14 331.33,294.13 332.00,294.12 332.66,294.12 333.33,294.12 334.00,294.11 334.66,294.11 335.33,294.10 335.99,294.10 336.66,294.09 337.33,294.09 337.99,294.08 338.66,294.08 339.32,294.07 339.99,294.07 340.65,294.06 341.32,294.06 341.99,294.05 342.65,294.05 343.32,294.05 343.98,294.04 344.65,294.04 345.32,294.03 345.98,294.03 346.65,294.03 347.31,294.02 347.98,294.02 348.65,294.01 349.31,294.01 349.98,294.01 350.64,294.00 351.31,294.00 351.97,294.00 352.64,293.99 353.31,293.99 353.97,293.99 354.64,293.98 355.30,293.98 355.97,293.98 356.64,293.97 357.30,293.97 357.97,293.97 358.63,293.96 359.30,293.96"/>
</g>
<path stroke="#ff0000" d="M316.20 44.30H346.70"/>
<path stroke="#00ff00" stroke-dasharray="3.20 1.36" d="M316.20 60.05H346.70"/>
<path stroke="#0000ff" stroke-dasharray="1.50 2.25" d="M316.20 75.80H345.60"/>
<path stroke="#ff00ff" stroke-dasharray="0.90 1.00" d="M316.20 91.55H346.70"/>
<path stroke="#00ffff" stroke-dasharray="4.50 1.50 0.90 1.50" d="M316.20 107.30H346.70"/>
<path stroke="#ffff00" stroke-dasharray="2.25 2.25 0.90 2.25" d="M316.20 123.05H346.70"/>
</g>
<g fill="none" stroke="#000" stroke-width="0.95">
<rect x="64.15" y="31.65" width="295.15" height="314.85"/>
<path stroke="#3d3d3d" stroke-width="2" d="M64.15 189.10H359.30"/>
<path stroke-width="0.85" d="M103.20 31.65L103.20 36.15M103.20 184.60L103.20 193.60M103.20 346.50L103.20 342.00M142.56 31.65L142.56 36.15M142.56 184.60L142.56 193.60M142.56 346.50L142.56 342.00M181.91 31.65L181.91 36.15M181.91 184.60L181.91 193.60M181.91 346.50L181.91 342.00M221.26 31.65L221.26 36.15M221.26 184.60L221.26 193.60M221.26 346.50L221.26 342.00M260.62 31.65L260.62 36.15M260.62 184.60L260.62 193.60M260.62 346.50L260.62 342.00M299.97 31.65L299.97 36.15M299.97 184.60L299.97 193.60M299.97 346.50L299.97 342.00M339.32 31.65L339.32 36.15M339.32 184.60L339.32 193.60M339.32 346.50L339.32 342.00M64.15 179.86L66.40 179.86M359.30 179.86L357.05 179.86M64.15 166.44L66.40 166.44M359.30 166.44L357.05 166.44M64.15 159.57L66.40 159.57M359.30 159.57L357.05 159.57M64.15 156.30L68.65 156.30M359.30 156.30L354.80 156.30M64.15 146.16L66.40 146.16M359.30 146.16L357.05 146.16M64.15 132.74L66.40 132.74M359.30 132.74L357.05 132.74M64.15 125.87L66.40 125.87M359.30 125.87L357.05 125.87M64.15 122.60L68.65 122.60M359.30 122.60L354.80 122.60M64.15 112.46L66.40 112.46M359.30 112.46L357.05 112.46M64.15 99.04L66.40 99.04M359.30 99.04L357.05 99.04M64.15 92.17L66.40 92.17M359.30 92.17L357.05 92.17M64.15 88.90L68.65 88.90M359.30 88.90L354.80 88.90M64.15 78.76L66.40 78.76M359.30 78.76L357.05 78.76M64.15 65.34L66.40 65.34M359.30 65.34L357.05 65.34M64.15 58.47L66.40 58.47M359.30 58.47L357.05 58.47M64.15 55.20L68.65 55.20M359.30 55.20L354.80 55.20M64.15 45.06L66.40 45.06M359.30 45.06L357.05 45.06M64.15 346.50L68.65 346.50M359.30 346.50L354.80 346.50M64.15 337.02L66.40 337.02M359.30 337.02L357.05 337.02M64.15 324.50L66.40 324.50M359.30 324.50L357.05 324.50M64.15 318.07L66.40 318.07M359.30 318.07L357.05 318.07M64.15 315.02L68.65 315.02M359.30 315.02L354.80 315.02M64.15 305.54L66.40 305.54M359.30 305.54L357.05 305.54M64.15 293.02L66.40 293.02M359.30 293.02L357.05 293.02M64.15 286.59L66.40 286.59M359.30 286.59L357.05 286.59M64.15 283.54L68.65 283.54M359.30 283.54L354.80 283.54M64.15 274.06L66.40 274.06M359.30 274.06L357.05 274.06M64.15 261.54L66.40 261.54M359.30 261.54L357.05 261.54M64.15 255.11L66.40 255.11M359.30 255.11L357.05 255.11M64.15 252.06L68.65 252.06M359.30 252.06L354.80 252.06M64.15 242.58L66.40 242.58M359.30 242.58L357.05 242.58M64.15 230.06L66.40 230.06M359.30 230.06L357.05 230.06M64.15 223.63L66.40 223.63M359.30 223.63L357.05 223.63M64.15 220.58L68.65 220.58M359.30 220.58L354.80 220.58M64.15 211.10L66.40 211.10M359.30 211.10L357.05 211.10M64.15 198.58L66.40 198.58M359.30 198.58L357.05 198.58M64.15 192.15L66.40 192.15M359.30 192.15L357.05 192.15M64.15 189.10L68.65 189.10M359.30 189.10L354.80 189.10"/>
</g>
<text x="57.50" y="160.48" font-size="10.50" text-anchor="end">1e+39</text>
<text x="57.50" y="126.78" font-size="10.50" text-anchor="end">1e+40</text>
<text x="57.50" y="93.08" font-size="10.50" text-anchor="end">1e+41</text>
<text x="57.50" y="59.38" font-size="10.50" text-anchor="end">1e+42</text>
<text x="57.50" y="350.88" font-size="10.50" text-anchor="end">1e+38</text>
<text x="57.50" y="319.40" font-size="10.50" text-anchor="end">1e+39</text>
<text x="57.50" y="287.92" font-size="10.50" text-anchor="end">1e+40</text>
<text x="57.50" y="256.44" font-size="10.50" text-anchor="end">1e+41</text>
<text x="57.50" y="224.96" font-size="10.50" text-anchor="end">1e+42</text>
<text x="57.50" y="192.78" font-size="10.50" text-anchor="end">1e+43</text>
<text x="104.30" y="361.20" font-size="10.50" text-anchor="middle">20</text>
<text x="143.66" y="361.20" font-size="10.50" text-anchor="middle">40</text>
<text x="183.01" y="361.20" font-size="10.50" text-anchor="middle">60</text>
<text x="222.36" y="361.20" font-size="10.50" text-anchor="middle">80</text>
<text x="260.62" y="361.20" font-size="10.50" text-anchor="middle">100</text>
<text x="299.97" y="361.20" font-size="10.50" text-anchor="middle">120</text>
<text x="339.32" y="361.20" font-size="10.50" text-anchor="middle">140</text>
<text x="211.50" y="376.70" font-size="10.50" text-anchor="middle">Time [Myr]</text>
<text x="309.80" y="47.58" font-size="10.50" text-anchor="end">Main Sequence Stars</text>
<text x="210.20" y="63.33" font-size="10.50" text-anchor="start">HMXBs:</text>
<text x="263.2" y="63.33" font-size="10.50" xml:space="preserve">f<tspan font-size="8.4" dy="2.2">sur</tspan><tspan dy="-2.2"> = 1</tspan></text>
<text x="263.2" y="79.08" font-size="10.50" xml:space="preserve">f<tspan font-size="8.4" dy="2.2">sur</tspan><tspan dy="-2.2"> = 0.75</tspan></text>
<text x="263.2" y="94.83" font-size="10.50" xml:space="preserve">f<tspan font-size="8.4" dy="2.2">sur</tspan><tspan dy="-2.2"> = &#160; 0.5</tspan></text>
<text x="263.2" y="110.58" font-size="10.50" xml:space="preserve">f<tspan font-size="8.4" dy="2.2">sur</tspan><tspan dy="-2.2"> = &#160;0.1&#160;</tspan></text>
<text x="263.2" y="126.33" font-size="10.50" xml:space="preserve">f<tspan font-size="8.4" dy="2.2">sur</tspan><tspan dy="-2.2"> = 0.01</tspan></text>
<text transform="translate(11.70 110.60) rotate(-90)" font-size="10.50" text-anchor="middle">log(L<tspan font-size="8.4" dy="2.2">Ionizing</tspan><tspan dy="-2.2"> [erg s</tspan><tspan font-size="8.4" dy="-5.2">-1</tspan><tspan dy="5.2">])</tspan></text>
<text transform="translate(11.60 268.50) rotate(-90)" font-size="10.50" text-anchor="middle">log(Cumulative L<tspan font-size="8.4" dy="2.2">Ionizing</tspan><tspan dy="-2.2"> [erg s</tspan><tspan font-size="8.4" dy="-5.2">-1</tspan><tspan dy="5.2">])</tspan></text>
</svg></body></html>
